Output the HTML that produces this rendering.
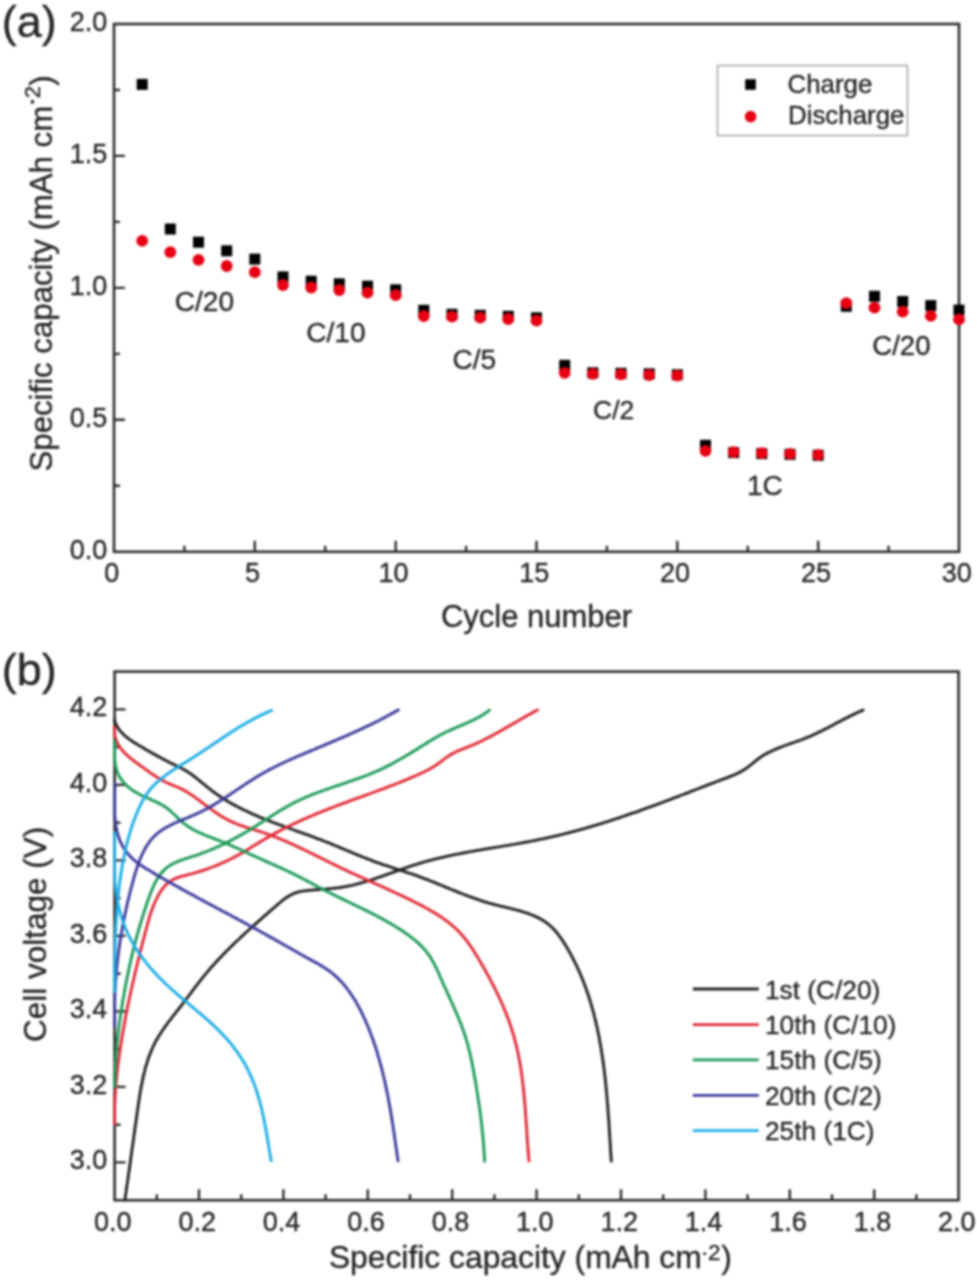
<!DOCTYPE html>
<html><head><meta charset="utf-8"><style>
html,body{margin:0;padding:0;background:#fff;}
body{width:977px;height:1280px;overflow:hidden;}
svg{display:block;font-family:"Liberation Sans", sans-serif;filter:blur(1.1px);}
</style></head><body>
<svg width="977" height="1280" viewBox="0 0 977 1280" font-family='"Liberation Sans", sans-serif' fill="#262626">
<style>text{stroke:#262626;stroke-width:0.35px;}</style>
<rect width="977" height="1280" fill="#fff"/>
<rect x="114.0" y="24.0" width="845.0" height="527.8" fill="none" stroke="#2c2c2c" stroke-width="2.6"/>
<path d="M114.0,485.8h6 M114.0,419.8h11 M114.0,353.9h6 M114.0,287.9h11 M114.0,221.9h6 M114.0,155.9h11 M114.0,90.0h6 M184.4,551.8v-6 M254.8,551.8v-11 M325.2,551.8v-6 M395.7,551.8v-11 M466.1,551.8v-6 M536.5,551.8v-11 M606.9,551.8v-6 M677.3,551.8v-11 M747.8,551.8v-6 M818.2,551.8v-11 M888.6,551.8v-6" stroke="#2c2c2c" stroke-width="2.4" fill="none"/>
<g fill="#262626" font-family='"Liberation Sans", sans-serif'>
<text x="107.3" y="558.7" font-size="27" text-anchor="end" >0.0</text>
<text x="107.3" y="426.7" font-size="27" text-anchor="end" >0.5</text>
<text x="107.3" y="294.8" font-size="27" text-anchor="end" >1.0</text>
<text x="107.3" y="162.8" font-size="27" text-anchor="end" >1.5</text>
<text x="107.3" y="30.9" font-size="27" text-anchor="end" >2.0</text>
<text x="111.8" y="582.3" font-size="27" text-anchor="middle" >0</text>
<text x="252.6" y="582.3" font-size="27" text-anchor="middle" >5</text>
<text x="393.5" y="582.3" font-size="27" text-anchor="middle" >10</text>
<text x="534.3" y="582.3" font-size="27" text-anchor="middle" >15</text>
<text x="675.1" y="582.3" font-size="27" text-anchor="middle" >20</text>
<text x="816.0" y="582.3" font-size="27" text-anchor="middle" >25</text>
<text x="956.8" y="582.3" font-size="27" text-anchor="middle" >30</text>
<text x="1.8" y="37.3" font-size="45" text-anchor="start" >(a)</text>
<text x="536.5" y="626.8" font-size="31" text-anchor="middle" >Cycle number</text>
<text transform="translate(52.3,471.5) rotate(-90)" font-size="31.2">Specific capacity (mAh cm</text>
<rect x="30.9" y="100.0" width="3.0" height="3.6" fill="#262626"/>
<text transform="translate(39.6,98.3) rotate(-90)" font-size="22">2</text>
<text transform="translate(52.3,85.8) rotate(-90)" font-size="31.2">)</text>
<text transform="translate(174.8,311.0) scale(1.04,1)" font-size="27" text-anchor="start" >C/20</text>
<text transform="translate(306.3,342.0) scale(1.04,1)" font-size="27" text-anchor="start" >C/10</text>
<text transform="translate(452.5,368.5) scale(1.04,1)" font-size="27" text-anchor="start" >C/5</text>
<text x="593.0" y="418.5" font-size="26.5" text-anchor="start" >C/2</text>
<text transform="translate(747.0,494.5) scale(1.04,1)" font-size="27" text-anchor="start" >1C</text>
<text transform="translate(872.3,355.0) scale(1.02,1)" font-size="27" text-anchor="start" >C/20</text>
</g>
<rect x="717.5" y="65.5" width="190" height="70" fill="#fff" stroke="#a8a8a8" stroke-width="1.6"/>
<rect x="745.2" y="79.2" width="10.6" height="10.6" fill="#000"/>
<circle cx="750.6" cy="116.6" r="5.8" fill="#e60012"/>
<g fill="#262626" font-family='"Liberation Sans", sans-serif' font-size="25">
<text transform="translate(787.5,92.6) scale(1.035,1)" font-size="25" text-anchor="start" >Charge</text>
<text transform="translate(788.0,124.4) scale(1.035,1)" font-size="25" text-anchor="start" >Discharge</text>
</g>
<rect x="136.7" y="78.9" width="11.0" height="11.0" fill="#000"/>
<rect x="164.8" y="223.5" width="11.0" height="11.0" fill="#000"/>
<rect x="193.0" y="236.7" width="11.0" height="11.0" fill="#000"/>
<rect x="221.2" y="245.3" width="11.0" height="11.0" fill="#000"/>
<rect x="249.3" y="253.6" width="11.0" height="11.0" fill="#000"/>
<rect x="277.5" y="271.4" width="11.0" height="11.0" fill="#000"/>
<rect x="305.7" y="275.7" width="11.0" height="11.0" fill="#000"/>
<rect x="333.8" y="278.3" width="11.0" height="11.0" fill="#000"/>
<rect x="362.0" y="280.7" width="11.0" height="11.0" fill="#000"/>
<rect x="390.2" y="284.3" width="11.0" height="11.0" fill="#000"/>
<rect x="418.3" y="304.8" width="11.0" height="11.0" fill="#000"/>
<rect x="446.5" y="308.8" width="11.0" height="11.0" fill="#000"/>
<rect x="474.7" y="309.8" width="11.0" height="11.0" fill="#000"/>
<rect x="502.8" y="310.8" width="11.0" height="11.0" fill="#000"/>
<rect x="531.0" y="312.3" width="11.0" height="11.0" fill="#000"/>
<rect x="559.2" y="359.8" width="11.0" height="11.0" fill="#000"/>
<rect x="587.3" y="367.3" width="11.0" height="11.0" fill="#000"/>
<rect x="615.5" y="367.8" width="11.0" height="11.0" fill="#000"/>
<rect x="643.7" y="368.3" width="11.0" height="11.0" fill="#000"/>
<rect x="671.8" y="369.3" width="11.0" height="11.0" fill="#000"/>
<rect x="700.0" y="439.8" width="11.0" height="11.0" fill="#000"/>
<rect x="728.2" y="447.1" width="11.0" height="11.0" fill="#000"/>
<rect x="756.3" y="448.1" width="11.0" height="11.0" fill="#000"/>
<rect x="784.5" y="448.8" width="11.0" height="11.0" fill="#000"/>
<rect x="812.7" y="449.8" width="11.0" height="11.0" fill="#000"/>
<rect x="840.8" y="300.8" width="11.0" height="11.0" fill="#000"/>
<rect x="869.0" y="290.8" width="11.0" height="11.0" fill="#000"/>
<rect x="897.2" y="296.0" width="11.0" height="11.0" fill="#000"/>
<rect x="925.3" y="300.1" width="11.0" height="11.0" fill="#000"/>
<rect x="953.5" y="304.6" width="11.0" height="11.0" fill="#000"/>
<circle cx="142.2" cy="240.8" r="5.9" fill="#e60012"/>
<circle cx="170.3" cy="252.2" r="5.9" fill="#e60012"/>
<circle cx="198.5" cy="259.9" r="5.9" fill="#e60012"/>
<circle cx="226.7" cy="266.0" r="5.9" fill="#e60012"/>
<circle cx="254.8" cy="272.2" r="5.9" fill="#e60012"/>
<circle cx="283.0" cy="285.0" r="5.9" fill="#e60012"/>
<circle cx="311.2" cy="287.5" r="5.9" fill="#e60012"/>
<circle cx="339.3" cy="290.0" r="5.9" fill="#e60012"/>
<circle cx="367.5" cy="292.7" r="5.9" fill="#e60012"/>
<circle cx="395.7" cy="295.2" r="5.9" fill="#e60012"/>
<circle cx="423.8" cy="316.0" r="5.9" fill="#e60012"/>
<circle cx="452.0" cy="316.7" r="5.9" fill="#e60012"/>
<circle cx="480.2" cy="317.6" r="5.9" fill="#e60012"/>
<circle cx="508.3" cy="319.0" r="5.9" fill="#e60012"/>
<circle cx="536.5" cy="320.7" r="5.9" fill="#e60012"/>
<circle cx="564.7" cy="372.9" r="5.9" fill="#e60012"/>
<circle cx="592.8" cy="373.8" r="5.9" fill="#e60012"/>
<circle cx="621.0" cy="374.4" r="5.9" fill="#e60012"/>
<circle cx="649.2" cy="375.0" r="5.9" fill="#e60012"/>
<circle cx="677.3" cy="375.6" r="5.9" fill="#e60012"/>
<circle cx="705.5" cy="450.8" r="5.9" fill="#e60012"/>
<circle cx="733.7" cy="452.1" r="5.9" fill="#e60012"/>
<circle cx="761.8" cy="453.2" r="5.9" fill="#e60012"/>
<circle cx="790.0" cy="453.9" r="5.9" fill="#e60012"/>
<circle cx="818.2" cy="454.9" r="5.9" fill="#e60012"/>
<circle cx="846.3" cy="303.1" r="5.9" fill="#e60012"/>
<circle cx="874.5" cy="307.6" r="5.9" fill="#e60012"/>
<circle cx="902.7" cy="311.7" r="5.9" fill="#e60012"/>
<circle cx="930.8" cy="315.9" r="5.9" fill="#e60012"/>
<circle cx="959.0" cy="319.3" r="5.9" fill="#e60012"/>
<rect x="114.6" y="671.6" width="844.0" height="528.6" fill="none" stroke="#2c2c2c" stroke-width="2.6"/>
<path d="M114.6,1162.4h11 M114.6,1124.7h6 M114.6,1086.9h11 M114.6,1049.2h6 M114.6,1011.4h11 M114.6,973.7h6 M114.6,935.9h11 M114.6,898.1h6 M114.6,860.4h11 M114.6,822.6h6 M114.6,784.9h11 M114.6,747.1h6 M114.6,709.4h11 M156.8,1200.2v-6 M199.0,1200.2v-11 M241.2,1200.2v-6 M283.4,1200.2v-11 M325.6,1200.2v-6 M367.8,1200.2v-11 M410.0,1200.2v-6 M452.2,1200.2v-11 M494.4,1200.2v-6 M536.6,1200.2v-11 M578.8,1200.2v-6 M621.0,1200.2v-11 M663.2,1200.2v-6 M705.4,1200.2v-11 M747.6,1200.2v-6 M789.8,1200.2v-11 M832.0,1200.2v-6 M874.2,1200.2v-11 M916.4,1200.2v-6" stroke="#2c2c2c" stroke-width="2.4" fill="none"/>
<g fill="#262626" font-family='"Liberation Sans", sans-serif'>
<text x="107.3" y="1169.3" font-size="27" text-anchor="end" >3.0</text>
<text x="107.3" y="1093.8" font-size="27" text-anchor="end" >3.2</text>
<text x="107.3" y="1018.3" font-size="27" text-anchor="end" >3.4</text>
<text x="107.3" y="942.8" font-size="27" text-anchor="end" >3.6</text>
<text x="107.3" y="867.3" font-size="27" text-anchor="end" >3.8</text>
<text x="107.3" y="791.8" font-size="27" text-anchor="end" >4.0</text>
<text x="107.3" y="716.3" font-size="27" text-anchor="end" >4.2</text>
<text x="112.8" y="1230.8" font-size="27" text-anchor="middle" >0.0</text>
<text x="197.2" y="1230.8" font-size="27" text-anchor="middle" >0.2</text>
<text x="281.6" y="1230.8" font-size="27" text-anchor="middle" >0.4</text>
<text x="366.0" y="1230.8" font-size="27" text-anchor="middle" >0.6</text>
<text x="450.4" y="1230.8" font-size="27" text-anchor="middle" >0.8</text>
<text x="534.8" y="1230.8" font-size="27" text-anchor="middle" >1.0</text>
<text x="619.2" y="1230.8" font-size="27" text-anchor="middle" >1.2</text>
<text x="703.6" y="1230.8" font-size="27" text-anchor="middle" >1.4</text>
<text x="788.0" y="1230.8" font-size="27" text-anchor="middle" >1.6</text>
<text x="872.4" y="1230.8" font-size="27" text-anchor="middle" >1.8</text>
<text x="956.8" y="1230.8" font-size="27" text-anchor="middle" >2.0</text>
<text x="1.8" y="684.5" font-size="45" text-anchor="start" >(b)</text>
<text x="328.9" y="1268" font-size="31.8">Specific capacity (mAh cm</text>
<rect x="703.2" y="1252.6" width="3.0" height="2.3" fill="#262626"/>
<text x="707.9" y="1259.5" font-size="22.5">2</text>
<text x="721.3" y="1268" font-size="32">)</text>
<text transform="translate(46,1042) rotate(-90)" font-size="31.5">Cell voltage (V)</text>
</g>
<path d="M124.8,1200.1 L125.1,1198.5 L125.3,1197.0 L125.5,1195.5 L125.7,1194.0 L126.0,1192.5 L126.2,1191.0 L126.4,1189.5 L126.6,1188.0 L126.8,1186.5 L127.0,1185.0 L127.3,1183.5 L127.5,1182.1 L127.7,1180.6 L127.9,1179.1 L128.1,1177.6 L128.3,1176.1 L128.5,1174.6 L128.7,1173.1 L129.0,1171.6 L129.2,1170.2 L129.4,1168.7 L129.6,1167.2 L129.8,1165.7 L130.0,1164.2 L130.2,1162.7 L130.4,1161.3 L130.6,1159.8 L130.8,1158.3 L131.0,1156.8 L131.2,1155.3 L131.4,1153.9 L131.6,1152.4 L131.8,1150.9 L132.0,1149.4 L132.2,1148.0 L132.5,1146.5 L132.7,1145.0 L132.9,1143.5 L133.1,1142.0 L133.3,1140.6 L133.5,1139.1 L133.7,1137.6 L133.9,1136.1 L134.1,1134.6 L134.3,1133.2 L134.5,1131.7 L134.7,1130.2 L134.9,1128.7 L135.1,1127.2 L135.3,1125.7 L135.5,1124.3 L135.8,1122.8 L136.0,1121.3 L136.2,1119.8 L136.4,1118.3 L136.6,1116.8 L136.8,1115.3 L137.0,1113.8 L137.2,1112.3 L137.5,1110.8 L137.7,1109.3 L137.9,1107.8 L138.1,1106.3 L138.3,1104.8 L138.6,1103.3 L138.8,1101.8 L139.0,1100.3 L139.2,1098.8 L139.5,1097.3 L139.7,1095.8 L139.9,1094.3 L140.2,1092.8 L140.4,1091.3 L140.7,1089.8 L141.0,1088.3 L141.2,1086.8 L141.5,1085.3 L141.8,1083.8 L142.1,1082.4 L142.4,1080.9 L142.7,1079.4 L143.0,1077.9 L143.3,1076.4 L143.7,1075.0 L144.0,1073.5 L144.4,1072.0 L144.8,1070.6 L145.1,1069.1 L145.5,1067.7 L145.9,1066.2 L146.4,1064.8 L146.8,1063.4 L147.2,1061.9 L147.7,1060.5 L148.1,1059.1 L148.6,1057.7 L149.1,1056.3 L149.7,1054.9 L150.2,1053.5 L150.7,1052.1 L151.3,1050.8 L151.9,1049.4 L152.5,1048.0 L153.1,1046.7 L153.7,1045.4 L154.4,1044.0 L155.0,1042.7 L155.7,1041.4 L156.5,1040.1 L157.2,1038.8 L157.9,1037.5 L158.7,1036.3 L159.5,1035.0 L160.3,1033.7 L161.1,1032.5 L161.9,1031.2 L162.7,1030.0 L163.6,1028.8 L164.5,1027.5 L165.3,1026.3 L166.2,1025.1 L167.1,1023.9 L168.0,1022.7 L168.9,1021.5 L169.8,1020.3 L170.7,1019.1 L171.7,1017.9 L172.6,1016.7 L173.5,1015.5 L174.4,1014.3 L175.4,1013.1 L176.3,1011.9 L177.2,1010.7 L178.2,1009.6 L179.1,1008.4 L180.0,1007.2 L181.0,1006.0 L181.9,1004.8 L182.8,1003.6 L183.7,1002.4 L184.6,1001.2 L185.5,1000.0 L186.4,998.8 L187.3,997.6 L188.3,996.4 L189.2,995.2 L190.1,994.0 L191.0,992.8 L191.9,991.6 L192.8,990.4 L193.7,989.2 L194.6,988.0 L195.5,986.8 L196.4,985.6 L197.3,984.4 L198.2,983.3 L199.1,982.1 L200.1,980.9 L201.0,979.7 L201.9,978.6 L202.9,977.4 L203.8,976.2 L204.7,975.1 L205.7,973.9 L206.6,972.8 L207.6,971.6 L208.6,970.5 L209.5,969.4 L210.5,968.2 L211.5,967.1 L212.5,966.0 L213.5,964.9 L214.5,963.8 L215.5,962.7 L216.5,961.5 L217.5,960.4 L218.6,959.4 L219.6,958.3 L220.6,957.2 L221.7,956.1 L222.7,955.0 L223.7,953.9 L224.8,952.9 L225.8,951.8 L226.9,950.7 L228.0,949.7 L229.0,948.6 L230.1,947.5 L231.2,946.5 L232.3,945.4 L233.3,944.4 L234.4,943.3 L235.5,942.3 L236.6,941.3 L237.7,940.2 L238.8,939.2 L239.9,938.2 L241.0,937.1 L242.1,936.1 L243.2,935.1 L244.3,934.0 L245.4,933.0 L246.5,932.0 L247.7,931.0 L248.8,930.0 L249.9,929.0 L251.0,927.9 L252.2,926.9 L253.3,925.9 L254.4,924.9 L255.5,923.9 L256.7,922.9 L257.8,921.9 L258.9,920.9 L260.1,919.9 L261.2,918.9 L262.4,917.9 L263.5,916.9 L264.6,915.9 L265.8,914.9 L266.9,913.9 L268.1,912.9 L269.2,911.9 L270.3,910.9 L271.5,909.9 L272.6,908.9 L273.8,907.9 L274.9,906.9 L276.1,905.9 L277.2,904.9 L278.3,903.9 L279.5,903.0 L280.7,902.0 L281.8,901.0 L283.0,900.1 L284.2,899.2 L285.4,898.3 L286.6,897.5 L287.8,896.7 L289.0,895.9 L290.3,895.2 L291.6,894.5 L292.9,893.9 L294.2,893.3 L295.6,892.8 L296.9,892.4 L298.3,892.0 L299.7,891.7 L301.2,891.4 L302.6,891.1 L304.1,890.9 L305.6,890.7 L307.1,890.5 L308.6,890.4 L310.1,890.2 L311.6,890.1 L313.1,890.0 L314.6,889.9 L316.1,889.8 L317.7,889.7 L319.2,889.6 L320.7,889.4 L322.2,889.3 L323.7,889.2 L325.2,889.1 L326.7,889.0 L328.2,888.8 L329.8,888.7 L331.3,888.6 L332.8,888.4 L334.3,888.2 L335.8,888.1 L337.3,887.9 L338.8,887.7 L340.2,887.5 L341.7,887.2 L343.2,887.0 L344.7,886.7 L346.2,886.5 L347.6,886.2 L349.1,885.9 L350.6,885.6 L352.0,885.3 L353.5,884.9 L355.0,884.6 L356.4,884.2 L357.9,883.8 L359.3,883.4 L360.8,883.0 L362.2,882.6 L363.6,882.2 L365.1,881.8 L366.5,881.4 L368.0,880.9 L369.4,880.5 L370.8,880.0 L372.3,879.6 L373.7,879.1 L375.1,878.6 L376.5,878.2 L378.0,877.7 L379.4,877.2 L380.8,876.7 L382.2,876.2 L383.7,875.7 L385.1,875.2 L386.5,874.7 L387.9,874.2 L389.3,873.7 L390.8,873.2 L392.2,872.6 L393.6,872.1 L395.0,871.6 L396.4,871.1 L397.9,870.6 L399.3,870.1 L400.7,869.6 L402.1,869.1 L403.5,868.6 L405.0,868.1 L406.4,867.6 L407.8,867.1 L409.2,866.6 L410.7,866.2 L412.1,865.7 L413.5,865.2 L415.0,864.8 L416.4,864.3 L417.8,863.9 L419.3,863.4 L420.7,863.0 L422.1,862.6 L423.6,862.1 L425.0,861.7 L426.5,861.3 L427.9,860.9 L429.4,860.5 L430.8,860.2 L432.3,859.8 L433.7,859.4 L435.2,859.0 L436.6,858.7 L438.1,858.3 L439.6,858.0 L441.0,857.6 L442.5,857.3 L443.9,857.0 L445.4,856.6 L446.9,856.3 L448.3,856.0 L449.8,855.7 L451.3,855.4 L452.7,855.1 L454.2,854.7 L455.7,854.4 L457.1,854.2 L458.6,853.9 L460.1,853.6 L461.6,853.3 L463.0,853.0 L464.5,852.7 L466.0,852.5 L467.5,852.2 L469.0,851.9 L470.4,851.6 L471.9,851.4 L473.4,851.1 L474.9,850.8 L476.4,850.6 L477.8,850.3 L479.3,850.1 L480.8,849.8 L482.3,849.6 L483.8,849.3 L485.3,849.1 L486.7,848.8 L488.2,848.6 L489.7,848.3 L491.2,848.1 L492.7,847.8 L494.2,847.6 L495.6,847.3 L497.1,847.1 L498.6,846.9 L500.1,846.6 L501.6,846.4 L503.1,846.1 L504.6,845.9 L506.0,845.6 L507.5,845.4 L509.0,845.1 L510.5,844.9 L512.0,844.6 L513.5,844.4 L514.9,844.1 L516.4,843.9 L517.9,843.6 L519.4,843.3 L520.9,843.1 L522.3,842.8 L523.8,842.5 L525.3,842.3 L526.8,842.0 L528.3,841.7 L529.7,841.4 L531.2,841.2 L532.7,840.9 L534.2,840.6 L535.6,840.3 L537.1,840.0 L538.6,839.7 L540.1,839.4 L541.5,839.1 L543.0,838.8 L544.5,838.5 L545.9,838.2 L547.4,837.8 L548.9,837.5 L550.3,837.2 L551.8,836.9 L553.3,836.5 L554.7,836.2 L556.2,835.8 L557.6,835.5 L559.1,835.1 L560.5,834.8 L562.0,834.4 L563.5,834.1 L564.9,833.7 L566.4,833.3 L567.8,833.0 L569.3,832.6 L570.7,832.2 L572.2,831.8 L573.6,831.5 L575.1,831.1 L576.5,830.7 L578.0,830.3 L579.4,829.9 L580.9,829.5 L582.3,829.1 L583.8,828.7 L585.2,828.3 L586.6,827.8 L588.1,827.4 L589.5,827.0 L591.0,826.6 L592.4,826.2 L593.8,825.7 L595.3,825.3 L596.7,824.9 L598.2,824.4 L599.6,824.0 L601.0,823.6 L602.5,823.1 L603.9,822.7 L605.3,822.2 L606.8,821.8 L608.2,821.3 L609.6,820.9 L611.1,820.4 L612.5,819.9 L613.9,819.5 L615.3,819.0 L616.8,818.5 L618.2,818.1 L619.6,817.6 L621.1,817.1 L622.5,816.6 L623.9,816.2 L625.3,815.7 L626.7,815.2 L628.2,814.7 L629.6,814.2 L631.0,813.7 L632.4,813.2 L633.9,812.7 L635.3,812.3 L636.7,811.8 L638.1,811.3 L639.5,810.8 L640.9,810.2 L642.4,809.7 L643.8,809.2 L645.2,808.7 L646.6,808.2 L648.0,807.7 L649.4,807.2 L650.9,806.7 L652.3,806.2 L653.7,805.6 L655.1,805.1 L656.5,804.6 L657.9,804.1 L659.3,803.6 L660.7,803.0 L662.1,802.5 L663.6,802.0 L665.0,801.4 L666.4,800.9 L667.8,800.4 L669.2,799.8 L670.6,799.3 L672.0,798.8 L673.4,798.2 L674.8,797.7 L676.2,797.2 L677.6,796.6 L679.0,796.1 L680.4,795.5 L681.8,795.0 L683.2,794.5 L684.7,793.9 L686.1,793.4 L687.5,792.8 L688.9,792.3 L690.3,791.7 L691.7,791.2 L693.1,790.7 L694.5,790.1 L695.9,789.6 L697.3,789.0 L698.7,788.5 L700.1,787.9 L701.5,787.4 L702.9,786.9 L704.3,786.3 L705.7,785.8 L707.1,785.2 L708.5,784.7 L709.9,784.2 L711.3,783.6 L712.7,783.1 L714.1,782.6 L715.5,782.0 L716.9,781.5 L718.3,781.0 L719.7,780.4 L721.1,779.9 L722.5,779.4 L723.9,778.9 L725.3,778.3 L726.7,777.8 L728.1,777.3 L729.5,776.7 L730.9,776.2 L732.2,775.6 L733.6,775.1 L735.0,774.5 L736.3,773.9 L737.7,773.2 L739.0,772.6 L740.3,771.9 L741.6,771.2 L742.9,770.4 L744.2,769.7 L745.4,768.9 L746.7,768.0 L747.9,767.1 L749.1,766.2 L750.3,765.3 L751.4,764.3 L752.6,763.4 L753.8,762.4 L755.0,761.4 L756.1,760.5 L757.3,759.6 L758.5,758.7 L759.8,757.8 L761.0,756.9 L762.2,756.1 L763.5,755.3 L764.8,754.6 L766.1,753.8 L767.4,753.1 L768.7,752.4 L770.0,751.8 L771.4,751.1 L772.7,750.5 L774.1,749.9 L775.4,749.3 L776.8,748.7 L778.2,748.1 L779.6,747.6 L781.0,747.1 L782.4,746.5 L783.8,746.0 L785.2,745.5 L786.6,745.0 L788.0,744.5 L789.4,744.0 L790.9,743.5 L792.3,743.0 L793.7,742.5 L795.1,742.0 L796.5,741.5 L798.0,741.0 L799.4,740.5 L800.8,740.0 L802.2,739.4 L803.6,738.9 L805.0,738.4 L806.4,737.8 L807.8,737.2 L809.2,736.7 L810.6,736.1 L811.9,735.5 L813.3,734.8 L814.7,734.2 L816.0,733.6 L817.4,732.9 L818.7,732.3 L820.1,731.6 L821.4,731.0 L822.8,730.3 L824.1,729.6 L825.4,728.9 L826.8,728.2 L828.1,727.5 L829.5,726.9 L830.8,726.2 L832.1,725.5 L833.4,724.7 L834.8,724.0 L836.1,723.3 L837.4,722.6 L838.8,721.9 L840.1,721.2 L841.4,720.5 L842.8,719.8 L844.1,719.1 L845.4,718.4 L846.8,717.8 L848.1,717.1 L849.4,716.4 L850.8,715.7 L852.1,715.1 L853.5,714.4 L854.9,713.8 L856.2,713.1 L857.6,712.5 L859.0,711.9 L860.3,711.3 L861.7,710.7 L863.1,710.1" stroke="#222222" stroke-width="2.9" fill="none" stroke-linejoin="round" stroke-linecap="round"/>
<path d="M114.7,719.1 L114.7,720.6 L115.0,722.0 L115.6,723.4 L116.2,724.8 L116.9,726.1 L117.6,727.3 L118.4,728.5 L119.2,729.7 L120.1,730.8 L121.1,731.9 L122.1,733.0 L123.1,734.1 L124.2,735.1 L125.3,736.1 L126.4,737.0 L127.6,737.9 L128.8,738.9 L130.0,739.8 L131.3,740.6 L132.6,741.5 L133.8,742.3 L135.1,743.1 L136.5,744.0 L137.8,744.8 L139.1,745.5 L140.4,746.3 L141.8,747.1 L143.1,747.9 L144.4,748.6 L145.8,749.4 L147.1,750.2 L148.4,750.9 L149.7,751.7 L151.0,752.4 L152.3,753.2 L153.6,753.9 L154.9,754.6 L156.3,755.4 L157.6,756.1 L158.9,756.8 L160.2,757.5 L161.5,758.2 L162.8,758.9 L164.1,759.6 L165.5,760.3 L166.8,761.0 L168.1,761.7 L169.5,762.4 L170.8,763.0 L172.1,763.7 L173.5,764.3 L174.9,765.0 L176.2,765.6 L177.6,766.3 L178.9,766.9 L180.3,767.6 L181.6,768.3 L182.9,769.0 L184.2,769.7 L185.5,770.5 L186.8,771.3 L188.1,772.1 L189.3,772.9 L190.5,773.8 L191.8,774.6 L193.0,775.5 L194.2,776.4 L195.4,777.3 L196.5,778.3 L197.7,779.2 L198.9,780.2 L200.1,781.1 L201.2,782.1 L202.4,783.0 L203.6,784.0 L204.7,784.9 L205.9,785.9 L207.1,786.9 L208.3,787.8 L209.4,788.7 L210.6,789.7 L211.8,790.6 L213.0,791.5 L214.2,792.4 L215.4,793.3 L216.7,794.1 L217.9,795.0 L219.1,795.8 L220.4,796.7 L221.6,797.5 L222.9,798.3 L224.2,799.1 L225.4,799.9 L226.7,800.6 L228.0,801.4 L229.3,802.2 L230.6,802.9 L231.9,803.7 L233.2,804.4 L234.5,805.1 L235.8,805.8 L237.1,806.5 L238.5,807.2 L239.8,807.9 L241.1,808.6 L242.5,809.2 L243.8,809.9 L245.2,810.5 L246.5,811.2 L247.9,811.8 L249.2,812.4 L250.6,813.1 L252.0,813.7 L253.3,814.3 L254.7,814.9 L256.1,815.5 L257.5,816.1 L258.8,816.7 L260.2,817.3 L261.6,817.8 L263.0,818.4 L264.4,819.0 L265.8,819.5 L267.2,820.1 L268.6,820.6 L270.0,821.2 L271.4,821.7 L272.8,822.3 L274.2,822.8 L275.6,823.3 L277.0,823.9 L278.4,824.4 L279.9,824.9 L281.3,825.4 L282.7,825.9 L284.1,826.5 L285.5,827.0 L286.9,827.5 L288.4,828.0 L289.8,828.5 L291.2,829.0 L292.6,829.5 L294.0,830.0 L295.5,830.6 L296.9,831.1 L298.3,831.6 L299.7,832.1 L301.2,832.6 L302.6,833.1 L304.0,833.6 L305.4,834.1 L306.8,834.6 L308.3,835.2 L309.7,835.7 L311.1,836.2 L312.5,836.7 L313.9,837.2 L315.3,837.8 L316.7,838.3 L318.2,838.8 L319.6,839.3 L321.0,839.9 L322.4,840.4 L323.8,841.0 L325.2,841.5 L326.6,842.1 L328.0,842.6 L329.4,843.2 L330.8,843.7 L332.2,844.3 L333.6,844.9 L334.9,845.5 L336.3,846.0 L337.7,846.6 L339.1,847.2 L340.5,847.8 L341.9,848.3 L343.3,848.9 L344.6,849.5 L346.0,850.1 L347.4,850.7 L348.8,851.2 L350.2,851.8 L351.6,852.4 L353.0,853.0 L354.3,853.6 L355.7,854.1 L357.1,854.7 L358.5,855.3 L359.9,855.8 L361.3,856.4 L362.7,857.0 L364.1,857.5 L365.5,858.1 L366.9,858.6 L368.3,859.2 L369.7,859.7 L371.1,860.2 L372.5,860.8 L373.9,861.3 L375.3,861.8 L376.7,862.3 L378.1,862.8 L379.6,863.3 L381.0,863.8 L382.4,864.3 L383.8,864.8 L385.3,865.3 L386.7,865.7 L388.1,866.2 L389.5,866.7 L391.0,867.2 L392.4,867.6 L393.8,868.1 L395.3,868.6 L396.7,869.0 L398.1,869.5 L399.6,870.0 L401.0,870.4 L402.4,870.9 L403.9,871.4 L405.3,871.8 L406.7,872.3 L408.2,872.8 L409.6,873.3 L411.0,873.7 L412.4,874.2 L413.9,874.7 L415.3,875.2 L416.7,875.7 L418.1,876.2 L419.5,876.7 L421.0,877.3 L422.4,877.8 L423.8,878.3 L425.2,878.9 L426.6,879.4 L428.0,879.9 L429.4,880.5 L430.8,881.0 L432.2,881.6 L433.6,882.2 L435.0,882.7 L436.4,883.3 L437.7,883.8 L439.1,884.4 L440.5,885.0 L441.9,885.5 L443.3,886.1 L444.7,886.7 L446.1,887.3 L447.5,887.8 L448.9,888.4 L450.2,889.0 L451.6,889.5 L453.0,890.1 L454.4,890.7 L455.8,891.2 L457.2,891.8 L458.6,892.3 L460.0,892.9 L461.4,893.5 L462.8,894.0 L464.2,894.5 L465.6,895.1 L467.0,895.6 L468.4,896.2 L469.8,896.7 L471.2,897.2 L472.6,897.7 L474.1,898.2 L475.5,898.7 L476.9,899.2 L478.3,899.7 L479.7,900.2 L481.2,900.6 L482.6,901.1 L484.0,901.6 L485.5,902.0 L486.9,902.4 L488.4,902.9 L489.8,903.3 L491.3,903.7 L492.8,904.1 L494.2,904.5 L495.7,904.9 L497.2,905.2 L498.6,905.6 L500.1,906.0 L501.6,906.3 L503.1,906.7 L504.6,907.0 L506.0,907.4 L507.5,907.7 L509.0,908.1 L510.5,908.4 L511.9,908.8 L513.4,909.2 L514.9,909.6 L516.3,909.9 L517.8,910.3 L519.3,910.7 L520.7,911.1 L522.2,911.6 L523.6,912.0 L525.0,912.5 L526.5,912.9 L527.9,913.4 L529.3,913.9 L530.7,914.5 L532.1,915.0 L533.4,915.6 L534.8,916.2 L536.2,916.8 L537.5,917.4 L538.8,918.1 L540.1,918.8 L541.4,919.5 L542.7,920.3 L544.0,921.1 L545.2,921.9 L546.4,922.7 L547.6,923.6 L548.7,924.5 L549.9,925.5 L551.0,926.5 L552.1,927.5 L553.1,928.5 L554.1,929.6 L555.1,930.7 L556.1,931.8 L557.1,933.0 L558.0,934.2 L558.9,935.4 L559.8,936.6 L560.7,937.8 L561.6,939.1 L562.4,940.4 L563.3,941.6 L564.1,942.9 L564.9,944.2 L565.7,945.5 L566.5,946.8 L567.3,948.2 L568.0,949.5 L568.8,950.8 L569.5,952.1 L570.3,953.5 L571.0,954.8 L571.7,956.1 L572.4,957.5 L573.1,958.8 L573.8,960.2 L574.5,961.5 L575.1,962.9 L575.8,964.2 L576.5,965.6 L577.1,966.9 L577.7,968.3 L578.4,969.7 L579.0,971.0 L579.6,972.4 L580.2,973.8 L580.8,975.2 L581.3,976.6 L581.9,977.9 L582.5,979.3 L583.0,980.7 L583.6,982.1 L584.1,983.5 L584.7,984.9 L585.2,986.3 L585.7,987.7 L586.2,989.1 L586.7,990.5 L587.2,992.0 L587.7,993.4 L588.2,994.8 L588.6,996.2 L589.1,997.6 L589.5,999.1 L590.0,1000.5 L590.4,1001.9 L590.9,1003.4 L591.3,1004.8 L591.7,1006.2 L592.1,1007.7 L592.5,1009.1 L592.9,1010.5 L593.3,1012.0 L593.7,1013.4 L594.1,1014.9 L594.4,1016.3 L594.8,1017.8 L595.2,1019.3 L595.5,1020.7 L595.9,1022.2 L596.2,1023.6 L596.5,1025.1 L596.9,1026.6 L597.2,1028.0 L597.5,1029.5 L597.8,1031.0 L598.1,1032.4 L598.4,1033.9 L598.7,1035.4 L599.0,1036.8 L599.3,1038.3 L599.6,1039.8 L599.8,1041.3 L600.1,1042.8 L600.4,1044.2 L600.6,1045.7 L600.9,1047.2 L601.1,1048.7 L601.4,1050.2 L601.6,1051.7 L601.8,1053.2 L602.1,1054.7 L602.3,1056.1 L602.5,1057.6 L602.7,1059.1 L602.9,1060.6 L603.1,1062.1 L603.4,1063.6 L603.6,1065.1 L603.7,1066.6 L603.9,1068.1 L604.1,1069.6 L604.3,1071.1 L604.5,1072.6 L604.7,1074.1 L604.8,1075.6 L605.0,1077.1 L605.2,1078.6 L605.3,1080.1 L605.5,1081.6 L605.7,1083.1 L605.8,1084.6 L606.0,1086.1 L606.1,1087.6 L606.2,1089.1 L606.4,1090.7 L606.5,1092.2 L606.7,1093.7 L606.8,1095.2 L606.9,1096.7 L607.1,1098.2 L607.2,1099.7 L607.3,1101.2 L607.4,1102.7 L607.6,1104.2 L607.7,1105.7 L607.8,1107.2 L607.9,1108.7 L608.0,1110.2 L608.1,1111.7 L608.2,1113.2 L608.3,1114.8 L608.4,1116.3 L608.5,1117.8 L608.7,1119.3 L608.8,1120.8 L608.9,1122.3 L609.0,1123.8 L609.1,1125.3 L609.1,1126.8 L609.2,1128.3 L609.3,1129.8 L609.4,1131.3 L609.5,1132.8 L609.6,1134.3 L609.7,1135.8 L609.8,1137.3 L609.9,1138.8 L610.0,1140.3 L610.1,1141.8 L610.2,1143.2 L610.3,1144.7 L610.3,1146.2 L610.4,1147.7 L610.5,1149.2 L610.6,1150.7 L610.7,1152.2 L610.8,1153.7 L610.9,1155.2 L611.0,1156.6 L611.1,1158.1 L611.2,1159.6 L611.3,1161.1" stroke="#222222" stroke-width="2.9" fill="none" stroke-linejoin="round" stroke-linecap="round"/>
<path d="M114.7,1124.5 L114.7,1123.0 L114.7,1121.5 L114.7,1120.0 L114.7,1118.5 L114.7,1117.0 L114.7,1115.5 L114.7,1114.0 L114.7,1112.5 L114.7,1111.0 L114.7,1109.5 L114.7,1108.0 L114.7,1106.5 L114.7,1105.0 L114.8,1103.5 L114.9,1102.0 L114.9,1100.4 L115.0,1098.9 L115.1,1097.4 L115.1,1095.9 L115.2,1094.4 L115.3,1092.9 L115.4,1091.4 L115.5,1089.9 L115.6,1088.4 L115.7,1086.9 L115.9,1085.4 L116.0,1083.9 L116.1,1082.4 L116.3,1080.9 L116.4,1079.4 L116.5,1077.9 L116.7,1076.4 L116.8,1074.9 L117.0,1073.4 L117.2,1071.9 L117.3,1070.4 L117.5,1068.9 L117.7,1067.4 L117.9,1065.9 L118.0,1064.4 L118.2,1062.9 L118.4,1061.5 L118.6,1060.0 L118.8,1058.5 L119.0,1057.0 L119.2,1055.5 L119.4,1054.0 L119.6,1052.5 L119.9,1051.0 L120.1,1049.5 L120.3,1048.0 L120.5,1046.5 L120.7,1045.1 L121.0,1043.6 L121.2,1042.1 L121.5,1040.6 L121.7,1039.1 L121.9,1037.6 L122.2,1036.1 L122.4,1034.7 L122.7,1033.2 L122.9,1031.7 L123.2,1030.2 L123.5,1028.7 L123.7,1027.3 L124.0,1025.8 L124.3,1024.3 L124.5,1022.8 L124.8,1021.4 L125.1,1019.9 L125.4,1018.4 L125.6,1016.9 L125.9,1015.5 L126.2,1014.0 L126.5,1012.5 L126.8,1011.0 L127.1,1009.6 L127.4,1008.1 L127.7,1006.6 L128.0,1005.2 L128.3,1003.7 L128.6,1002.2 L128.9,1000.8 L129.2,999.3 L129.5,997.8 L129.8,996.3 L130.2,994.9 L130.5,993.4 L130.8,991.9 L131.1,990.5 L131.4,989.0 L131.8,987.5 L132.1,986.1 L132.4,984.6 L132.8,983.2 L133.1,981.7 L133.4,980.2 L133.8,978.8 L134.1,977.3 L134.5,975.8 L134.8,974.4 L135.1,972.9 L135.5,971.4 L135.8,970.0 L136.2,968.5 L136.5,967.0 L136.9,965.6 L137.3,964.1 L137.6,962.7 L138.0,961.2 L138.3,959.7 L138.7,958.3 L139.1,956.8 L139.4,955.4 L139.8,953.9 L140.2,952.4 L140.5,951.0 L140.9,949.5 L141.3,948.0 L141.6,946.6 L142.0,945.1 L142.4,943.7 L142.8,942.2 L143.1,940.7 L143.5,939.3 L143.9,937.8 L144.3,936.3 L144.7,934.9 L145.0,933.4 L145.4,932.0 L145.8,930.5 L146.2,929.0 L146.6,927.6 L147.0,926.1 L147.4,924.6 L147.8,923.2 L148.2,921.7 L148.6,920.3 L149.0,918.8 L149.4,917.4 L149.9,915.9 L150.3,914.5 L150.8,913.0 L151.3,911.6 L151.8,910.2 L152.3,908.8 L152.8,907.4 L153.3,906.0 L153.9,904.6 L154.5,903.2 L155.1,901.8 L155.7,900.4 L156.4,899.1 L157.1,897.7 L157.8,896.4 L158.5,895.1 L159.3,893.8 L160.0,892.5 L160.9,891.2 L161.7,890.0 L162.6,888.7 L163.5,887.5 L164.5,886.4 L165.5,885.3 L166.5,884.3 L167.6,883.3 L168.8,882.4 L169.9,881.5 L171.2,880.7 L172.4,880.0 L173.7,879.3 L175.0,878.6 L176.4,878.1 L177.8,877.6 L179.2,877.1 L180.6,876.6 L182.1,876.2 L183.5,875.8 L185.0,875.5 L186.5,875.1 L188.0,874.7 L189.5,874.3 L190.9,873.9 L192.4,873.6 L193.9,873.1 L195.3,872.7 L196.8,872.3 L198.2,871.9 L199.7,871.4 L201.1,871.0 L202.6,870.5 L204.0,870.0 L205.4,869.6 L206.8,869.1 L208.3,868.6 L209.7,868.0 L211.1,867.5 L212.5,867.0 L213.9,866.5 L215.3,865.9 L216.7,865.3 L218.1,864.8 L219.4,864.2 L220.8,863.6 L222.2,863.0 L223.6,862.4 L224.9,861.8 L226.3,861.1 L227.6,860.5 L229.0,859.8 L230.3,859.2 L231.7,858.5 L233.0,857.8 L234.3,857.1 L235.7,856.4 L237.0,855.7 L238.3,855.0 L239.6,854.2 L240.9,853.5 L242.2,852.8 L243.5,852.0 L244.8,851.2 L246.1,850.5 L247.4,849.7 L248.7,848.9 L250.0,848.1 L251.3,847.3 L252.5,846.5 L253.8,845.7 L255.1,845.0 L256.4,844.2 L257.7,843.4 L259.0,842.6 L260.3,841.8 L261.5,841.0 L262.8,840.2 L264.1,839.5 L265.4,838.7 L266.7,837.9 L268.0,837.2 L269.3,836.4 L270.7,835.7 L272.0,835.0 L273.3,834.2 L274.6,833.5 L275.9,832.8 L277.2,832.1 L278.6,831.4 L279.9,830.7 L281.2,830.0 L282.6,829.3 L283.9,828.6 L285.3,828.0 L286.6,827.3 L287.9,826.6 L289.3,826.0 L290.6,825.3 L292.0,824.7 L293.4,824.0 L294.7,823.4 L296.1,822.7 L297.4,822.1 L298.8,821.5 L300.2,820.9 L301.5,820.2 L302.9,819.6 L304.3,819.0 L305.7,818.4 L307.0,817.8 L308.4,817.2 L309.8,816.6 L311.2,816.0 L312.6,815.4 L314.0,814.9 L315.3,814.3 L316.7,813.7 L318.1,813.1 L319.5,812.6 L320.9,812.0 L322.3,811.4 L323.7,810.9 L325.1,810.3 L326.5,809.8 L327.9,809.2 L329.3,808.7 L330.7,808.1 L332.1,807.6 L333.5,807.0 L334.9,806.5 L336.3,806.0 L337.7,805.4 L339.2,804.9 L340.6,804.4 L342.0,803.8 L343.4,803.3 L344.8,802.8 L346.2,802.3 L347.6,801.8 L349.0,801.2 L350.5,800.7 L351.9,800.2 L353.3,799.7 L354.7,799.2 L356.1,798.7 L357.5,798.1 L358.9,797.6 L360.4,797.1 L361.8,796.6 L363.2,796.1 L364.6,795.6 L366.0,795.1 L367.4,794.6 L368.9,794.0 L370.3,793.5 L371.7,793.0 L373.1,792.5 L374.5,792.0 L375.9,791.5 L377.3,790.9 L378.7,790.4 L380.1,789.9 L381.6,789.4 L383.0,788.9 L384.4,788.3 L385.8,787.8 L387.2,787.3 L388.6,786.7 L390.0,786.2 L391.4,785.7 L392.8,785.1 L394.2,784.6 L395.6,784.0 L397.0,783.5 L398.4,783.0 L399.8,782.4 L401.1,781.8 L402.5,781.3 L403.9,780.7 L405.3,780.1 L406.7,779.6 L408.1,779.0 L409.4,778.4 L410.8,777.8 L412.2,777.2 L413.6,776.7 L414.9,776.1 L416.3,775.5 L417.7,774.8 L419.0,774.2 L420.4,773.6 L421.7,773.0 L423.1,772.3 L424.4,771.7 L425.7,771.0 L427.1,770.4 L428.4,769.7 L429.7,769.0 L431.0,768.2 L432.3,767.5 L433.6,766.7 L434.8,765.9 L436.1,765.1 L437.3,764.3 L438.5,763.4 L439.8,762.5 L441.0,761.6 L442.1,760.7 L443.3,759.8 L444.5,758.9 L445.7,757.9 L446.9,757.1 L448.2,756.2 L449.4,755.4 L450.7,754.6 L452.0,753.9 L453.3,753.2 L454.6,752.5 L456.0,751.9 L457.3,751.2 L458.7,750.6 L460.1,750.1 L461.5,749.5 L462.9,748.9 L464.3,748.4 L465.7,747.8 L467.1,747.3 L468.5,746.7 L469.9,746.2 L471.3,745.6 L472.7,745.0 L474.0,744.4 L475.4,743.8 L476.8,743.2 L478.2,742.6 L479.5,742.0 L480.9,741.3 L482.2,740.7 L483.6,740.0 L484.9,739.3 L486.3,738.7 L487.6,738.0 L488.9,737.3 L490.3,736.6 L491.6,735.9 L492.9,735.2 L494.2,734.5 L495.6,733.7 L496.9,733.0 L498.2,732.3 L499.5,731.6 L500.8,730.8 L502.1,730.1 L503.4,729.3 L504.7,728.6 L506.0,727.8 L507.3,727.1 L508.6,726.3 L509.9,725.6 L511.2,724.8 L512.6,724.1 L513.9,723.3 L515.2,722.5 L516.5,721.8 L517.8,721.0 L519.1,720.3 L520.4,719.5 L521.7,718.8 L523.0,718.0 L524.3,717.3 L525.6,716.5 L526.9,715.8 L528.2,715.1 L529.5,714.3 L530.8,713.6 L532.2,712.9 L533.5,712.1 L534.8,711.4 L536.1,710.7 L537.5,710.0" stroke="#e02a36" stroke-width="2.9" fill="none" stroke-linejoin="round" stroke-linecap="round"/>
<path d="M114.7,726.9 L114.7,728.6 L114.7,730.2 L114.7,731.8 L114.7,733.3 L114.7,734.8 L115.0,736.3 L115.4,737.7 L115.8,739.1 L116.3,740.5 L116.8,741.8 L117.5,743.1 L118.1,744.4 L118.9,745.6 L119.7,746.8 L120.5,748.0 L121.4,749.2 L122.3,750.3 L123.3,751.4 L124.3,752.5 L125.4,753.6 L126.5,754.6 L127.6,755.6 L128.7,756.6 L129.9,757.6 L131.1,758.6 L132.3,759.6 L133.5,760.5 L134.8,761.5 L136.0,762.4 L137.3,763.3 L138.5,764.3 L139.8,765.2 L141.1,766.1 L142.3,767.0 L143.6,767.9 L144.8,768.8 L146.0,769.7 L147.3,770.5 L148.5,771.4 L149.7,772.3 L150.9,773.2 L152.2,774.0 L153.4,774.8 L154.6,775.7 L155.9,776.5 L157.1,777.3 L158.4,778.1 L159.6,778.8 L160.9,779.6 L162.2,780.3 L163.5,781.0 L164.8,781.7 L166.1,782.3 L167.5,783.0 L168.9,783.6 L170.2,784.2 L171.6,784.7 L173.0,785.3 L174.4,785.9 L175.8,786.5 L177.2,787.0 L178.6,787.6 L180.0,788.3 L181.4,788.9 L182.7,789.6 L184.0,790.3 L185.3,791.0 L186.6,791.8 L187.9,792.6 L189.1,793.4 L190.4,794.2 L191.6,795.0 L192.9,795.8 L194.1,796.7 L195.3,797.6 L196.5,798.4 L197.7,799.3 L199.0,800.2 L200.2,801.1 L201.4,802.0 L202.6,802.9 L203.8,803.8 L205.0,804.7 L206.2,805.6 L207.4,806.5 L208.6,807.4 L209.9,808.3 L211.1,809.2 L212.3,810.1 L213.5,811.0 L214.8,811.8 L216.0,812.7 L217.3,813.5 L218.5,814.3 L219.8,815.2 L221.1,816.0 L222.4,816.7 L223.6,817.5 L224.9,818.3 L226.2,819.0 L227.6,819.7 L228.9,820.4 L230.2,821.1 L231.6,821.7 L233.0,822.3 L234.3,822.9 L235.7,823.5 L237.1,824.0 L238.5,824.6 L239.9,825.1 L241.3,825.6 L242.8,826.1 L244.2,826.6 L245.6,827.1 L247.1,827.5 L248.5,828.0 L250.0,828.4 L251.4,828.9 L252.9,829.3 L254.3,829.8 L255.8,830.2 L257.2,830.7 L258.7,831.1 L260.1,831.6 L261.6,832.0 L263.0,832.5 L264.4,833.0 L265.9,833.5 L267.3,834.0 L268.7,834.5 L270.1,835.0 L271.5,835.5 L272.9,836.1 L274.4,836.6 L275.8,837.2 L277.2,837.7 L278.6,838.3 L280.0,838.8 L281.3,839.4 L282.7,840.0 L284.1,840.6 L285.5,841.2 L286.9,841.8 L288.3,842.4 L289.6,843.0 L291.0,843.6 L292.4,844.2 L293.7,844.8 L295.1,845.5 L296.5,846.1 L297.8,846.7 L299.2,847.4 L300.6,848.0 L301.9,848.7 L303.3,849.3 L304.6,850.0 L306.0,850.6 L307.3,851.3 L308.7,852.0 L310.0,852.6 L311.4,853.3 L312.7,853.9 L314.1,854.6 L315.4,855.3 L316.8,856.0 L318.1,856.6 L319.5,857.3 L320.8,858.0 L322.2,858.6 L323.5,859.3 L324.9,860.0 L326.2,860.7 L327.6,861.3 L328.9,862.0 L330.3,862.7 L331.6,863.3 L333.0,864.0 L334.3,864.7 L335.7,865.3 L337.0,866.0 L338.4,866.6 L339.7,867.3 L341.1,868.0 L342.4,868.6 L343.8,869.3 L345.2,869.9 L346.5,870.5 L347.9,871.2 L349.2,871.8 L350.6,872.4 L352.0,873.1 L353.4,873.7 L354.7,874.3 L356.1,875.0 L357.5,875.6 L358.8,876.2 L360.2,876.8 L361.6,877.5 L363.0,878.1 L364.3,878.7 L365.7,879.3 L367.1,879.9 L368.5,880.6 L369.8,881.2 L371.2,881.8 L372.6,882.4 L374.0,883.0 L375.3,883.6 L376.7,884.3 L378.1,884.9 L379.5,885.5 L380.8,886.1 L382.2,886.7 L383.6,887.3 L385.0,888.0 L386.3,888.6 L387.7,889.2 L389.1,889.8 L390.5,890.5 L391.8,891.1 L393.2,891.7 L394.6,892.4 L395.9,893.0 L397.3,893.6 L398.7,894.3 L400.0,894.9 L401.4,895.6 L402.8,896.2 L404.1,896.9 L405.5,897.5 L406.8,898.2 L408.2,898.8 L409.5,899.5 L410.9,900.2 L412.3,900.8 L413.6,901.5 L415.0,902.2 L416.3,902.9 L417.6,903.5 L419.0,904.2 L420.3,904.9 L421.7,905.6 L423.0,906.3 L424.3,907.1 L425.6,907.8 L427.0,908.5 L428.3,909.2 L429.6,910.0 L430.9,910.7 L432.2,911.5 L433.5,912.2 L434.8,913.0 L436.1,913.8 L437.3,914.6 L438.6,915.4 L439.8,916.2 L441.1,917.0 L442.3,917.9 L443.6,918.7 L444.8,919.6 L446.0,920.5 L447.2,921.4 L448.3,922.3 L449.5,923.2 L450.7,924.1 L451.8,925.1 L452.9,926.0 L454.0,927.0 L455.1,928.0 L456.2,929.0 L457.3,930.0 L458.4,931.1 L459.4,932.2 L460.4,933.2 L461.4,934.4 L462.4,935.5 L463.4,936.6 L464.3,937.8 L465.3,938.9 L466.2,940.1 L467.1,941.3 L468.0,942.5 L468.9,943.8 L469.8,945.0 L470.6,946.3 L471.5,947.5 L472.3,948.8 L473.2,950.1 L474.0,951.4 L474.8,952.7 L475.6,954.0 L476.4,955.3 L477.2,956.6 L478.0,957.9 L478.8,959.2 L479.5,960.5 L480.3,961.8 L481.1,963.2 L481.9,964.5 L482.6,965.8 L483.4,967.1 L484.1,968.4 L484.9,969.8 L485.6,971.1 L486.4,972.4 L487.1,973.8 L487.8,975.1 L488.6,976.4 L489.3,977.7 L490.0,979.1 L490.7,980.4 L491.4,981.8 L492.1,983.1 L492.8,984.4 L493.5,985.8 L494.2,987.1 L494.9,988.5 L495.5,989.8 L496.2,991.2 L496.8,992.5 L497.5,993.9 L498.1,995.2 L498.8,996.6 L499.4,997.9 L500.0,999.3 L500.7,1000.7 L501.3,1002.0 L501.9,1003.4 L502.5,1004.8 L503.1,1006.1 L503.7,1007.5 L504.2,1008.9 L504.8,1010.3 L505.4,1011.7 L505.9,1013.0 L506.5,1014.4 L507.0,1015.8 L507.5,1017.2 L508.1,1018.6 L508.6,1020.0 L509.1,1021.4 L509.6,1022.8 L510.1,1024.2 L510.6,1025.6 L511.0,1027.0 L511.5,1028.5 L511.9,1029.9 L512.4,1031.3 L512.8,1032.7 L513.3,1034.2 L513.7,1035.6 L514.1,1037.0 L514.5,1038.5 L514.9,1039.9 L515.3,1041.4 L515.6,1042.8 L516.0,1044.3 L516.4,1045.7 L516.7,1047.2 L517.0,1048.6 L517.4,1050.1 L517.7,1051.6 L518.0,1053.0 L518.3,1054.5 L518.6,1056.0 L518.9,1057.5 L519.2,1059.0 L519.4,1060.4 L519.7,1061.9 L520.0,1063.4 L520.2,1064.9 L520.5,1066.4 L520.7,1067.9 L520.9,1069.4 L521.2,1070.9 L521.4,1072.4 L521.6,1073.9 L521.8,1075.4 L522.0,1076.9 L522.2,1078.4 L522.4,1079.9 L522.6,1081.4 L522.8,1082.9 L522.9,1084.4 L523.1,1086.0 L523.3,1087.5 L523.4,1089.0 L523.6,1090.5 L523.7,1092.0 L523.9,1093.5 L524.0,1095.0 L524.2,1096.6 L524.3,1098.1 L524.5,1099.6 L524.6,1101.1 L524.7,1102.6 L524.8,1104.1 L525.0,1105.7 L525.1,1107.2 L525.2,1108.7 L525.3,1110.2 L525.4,1111.7 L525.5,1113.2 L525.6,1114.8 L525.8,1116.3 L525.9,1117.8 L526.0,1119.3 L526.1,1120.8 L526.2,1122.3 L526.3,1123.8 L526.4,1125.3 L526.5,1126.9 L526.6,1128.4 L526.7,1129.9 L526.8,1131.4 L526.9,1132.9 L527.0,1134.4 L527.1,1135.9 L527.2,1137.4 L527.3,1138.9 L527.4,1140.4 L527.5,1141.9 L527.6,1143.3 L527.7,1144.8 L527.8,1146.3 L527.9,1147.8 L528.0,1149.3 L528.1,1150.8 L528.3,1152.2 L528.4,1153.7 L528.5,1155.2 L528.6,1156.7 L528.7,1158.1 L528.9,1159.6 L529.0,1161.0" stroke="#e02a36" stroke-width="2.9" fill="none" stroke-linejoin="round" stroke-linecap="round"/>
<path d="M114.7,1087.0 L114.7,1085.5 L114.7,1084.0 L114.8,1082.5 L114.8,1081.0 L114.8,1079.5 L114.8,1078.0 L114.9,1076.5 L114.9,1075.0 L115.0,1073.5 L115.0,1072.0 L115.1,1070.5 L115.2,1069.0 L115.2,1067.5 L115.3,1066.0 L115.4,1064.4 L115.5,1062.9 L115.6,1061.4 L115.7,1059.9 L115.8,1058.4 L115.9,1056.9 L116.0,1055.4 L116.1,1053.9 L116.2,1052.4 L116.3,1050.9 L116.5,1049.4 L116.6,1047.9 L116.8,1046.4 L116.9,1044.9 L117.0,1043.4 L117.2,1041.9 L117.4,1040.4 L117.5,1038.8 L117.7,1037.3 L117.8,1035.8 L118.0,1034.3 L118.2,1032.8 L118.4,1031.3 L118.6,1029.8 L118.8,1028.3 L118.9,1026.8 L119.1,1025.3 L119.3,1023.8 L119.5,1022.3 L119.8,1020.8 L120.0,1019.3 L120.2,1017.8 L120.4,1016.3 L120.6,1014.8 L120.8,1013.3 L121.1,1011.8 L121.3,1010.4 L121.5,1008.9 L121.8,1007.4 L122.0,1005.9 L122.2,1004.4 L122.5,1002.9 L122.7,1001.4 L123.0,999.9 L123.2,998.4 L123.5,997.0 L123.8,995.5 L124.0,994.0 L124.3,992.5 L124.5,991.0 L124.8,989.6 L125.1,988.1 L125.4,986.6 L125.6,985.1 L125.9,983.7 L126.2,982.2 L126.5,980.7 L126.8,979.3 L127.1,977.8 L127.4,976.3 L127.7,974.9 L128.0,973.4 L128.3,971.9 L128.6,970.5 L128.9,969.0 L129.2,967.5 L129.5,966.1 L129.9,964.6 L130.2,963.2 L130.5,961.7 L130.8,960.2 L131.2,958.8 L131.5,957.3 L131.9,955.9 L132.2,954.4 L132.6,952.9 L132.9,951.5 L133.3,950.0 L133.6,948.6 L134.0,947.1 L134.4,945.7 L134.7,944.2 L135.1,942.8 L135.5,941.3 L135.9,939.9 L136.3,938.4 L136.7,936.9 L137.1,935.5 L137.5,934.0 L137.9,932.6 L138.3,931.1 L138.7,929.7 L139.1,928.2 L139.5,926.8 L140.0,925.3 L140.4,923.9 L140.8,922.4 L141.3,921.0 L141.7,919.5 L142.2,918.1 L142.6,916.6 L143.1,915.2 L143.5,913.7 L144.0,912.2 L144.5,910.8 L144.9,909.3 L145.4,907.9 L145.9,906.4 L146.4,905.0 L146.9,903.5 L147.4,902.1 L147.9,900.6 L148.4,899.1 L148.9,897.7 L149.5,896.2 L150.0,894.8 L150.5,893.3 L151.1,891.9 L151.7,890.5 L152.2,889.1 L152.8,887.7 L153.5,886.3 L154.1,884.9 L154.7,883.5 L155.4,882.2 L156.1,880.9 L156.9,879.6 L157.6,878.4 L158.4,877.1 L159.2,875.9 L160.0,874.8 L160.9,873.6 L161.8,872.5 L162.8,871.4 L163.8,870.4 L164.8,869.4 L165.8,868.5 L166.9,867.6 L168.1,866.7 L169.3,865.9 L170.5,865.1 L171.8,864.4 L173.0,863.7 L174.4,863.0 L175.7,862.4 L177.1,861.8 L178.5,861.2 L179.9,860.7 L181.4,860.1 L182.8,859.6 L184.3,859.1 L185.8,858.6 L187.3,858.1 L188.8,857.7 L190.3,857.2 L191.8,856.7 L193.3,856.2 L194.8,855.8 L196.3,855.3 L197.7,854.8 L199.2,854.3 L200.7,853.7 L202.1,853.2 L203.5,852.7 L205.0,852.1 L206.4,851.6 L207.8,851.0 L209.2,850.5 L210.6,849.9 L212.0,849.3 L213.4,848.7 L214.8,848.1 L216.2,847.5 L217.6,846.9 L218.9,846.3 L220.3,845.7 L221.6,845.0 L223.0,844.4 L224.3,843.7 L225.7,843.1 L227.0,842.4 L228.3,841.7 L229.7,841.1 L231.0,840.4 L232.3,839.7 L233.6,839.0 L234.9,838.3 L236.2,837.6 L237.5,836.9 L238.8,836.1 L240.1,835.4 L241.4,834.7 L242.7,833.9 L244.0,833.2 L245.3,832.4 L246.6,831.7 L247.9,830.9 L249.1,830.1 L250.4,829.4 L251.7,828.6 L253.0,827.8 L254.2,827.0 L255.5,826.2 L256.8,825.4 L258.1,824.6 L259.3,823.8 L260.6,823.0 L261.9,822.2 L263.2,821.4 L264.4,820.5 L265.7,819.7 L267.0,818.9 L268.3,818.1 L269.5,817.3 L270.8,816.4 L272.1,815.6 L273.4,814.8 L274.7,814.0 L276.0,813.2 L277.2,812.4 L278.5,811.6 L279.8,810.8 L281.1,810.0 L282.4,809.2 L283.7,808.4 L285.0,807.7 L286.4,806.9 L287.7,806.2 L289.0,805.4 L290.3,804.7 L291.7,804.0 L293.0,803.3 L294.3,802.6 L295.7,801.9 L297.0,801.3 L298.4,800.6 L299.7,800.0 L301.1,799.4 L302.5,798.7 L303.8,798.1 L305.2,797.5 L306.6,796.9 L308.0,796.4 L309.4,795.8 L310.7,795.2 L312.1,794.7 L313.5,794.1 L314.9,793.6 L316.3,793.1 L317.7,792.5 L319.1,792.0 L320.6,791.5 L322.0,791.0 L323.4,790.5 L324.8,790.0 L326.2,789.5 L327.7,789.0 L329.1,788.5 L330.5,788.0 L331.9,787.5 L333.4,787.0 L334.8,786.5 L336.2,786.0 L337.7,785.5 L339.1,785.1 L340.5,784.6 L342.0,784.1 L343.4,783.6 L344.8,783.1 L346.3,782.6 L347.7,782.2 L349.1,781.7 L350.6,781.2 L352.0,780.7 L353.4,780.2 L354.8,779.7 L356.3,779.2 L357.7,778.7 L359.1,778.2 L360.5,777.6 L362.0,777.1 L363.4,776.6 L364.8,776.1 L366.2,775.5 L367.6,775.0 L369.0,774.4 L370.4,773.9 L371.8,773.3 L373.2,772.7 L374.6,772.1 L376.0,771.5 L377.3,770.9 L378.7,770.3 L380.1,769.7 L381.4,769.1 L382.8,768.4 L384.1,767.8 L385.5,767.1 L386.8,766.4 L388.2,765.7 L389.5,765.1 L390.8,764.4 L392.2,763.7 L393.5,762.9 L394.8,762.2 L396.1,761.5 L397.4,760.8 L398.8,760.0 L400.1,759.3 L401.4,758.5 L402.7,757.8 L404.0,757.0 L405.3,756.3 L406.5,755.5 L407.8,754.7 L409.1,753.9 L410.4,753.2 L411.7,752.4 L413.0,751.6 L414.3,750.8 L415.5,750.0 L416.8,749.2 L418.1,748.4 L419.4,747.6 L420.6,746.8 L421.9,746.0 L423.2,745.2 L424.5,744.4 L425.7,743.6 L427.0,742.9 L428.3,742.1 L429.6,741.3 L430.8,740.5 L432.1,739.7 L433.4,738.9 L434.7,738.2 L436.0,737.4 L437.3,736.7 L438.6,736.0 L439.9,735.2 L441.2,734.5 L442.6,733.8 L443.9,733.1 L445.2,732.5 L446.6,731.8 L447.9,731.2 L449.3,730.6 L450.7,729.9 L452.1,729.3 L453.5,728.7 L454.8,728.1 L456.2,727.5 L457.6,726.9 L459.0,726.4 L460.4,725.8 L461.8,725.2 L463.2,724.6 L464.6,724.0 L466.0,723.4 L467.4,722.8 L468.7,722.2 L470.1,721.6 L471.5,720.9 L472.8,720.3 L474.2,719.6 L475.5,718.9 L476.9,718.2 L478.2,717.5 L479.5,716.8 L480.8,716.0 L482.1,715.2 L483.4,714.4 L484.7,713.6 L485.9,712.8 L487.1,711.9 L488.4,711.0 L489.6,710.0" stroke="#1c9a58" stroke-width="2.9" fill="none" stroke-linejoin="round" stroke-linecap="round"/>
<path d="M114.7,740.8 L114.7,742.2 L114.7,743.7 L114.7,745.2 L114.7,746.7 L114.7,748.2 L114.7,749.7 L114.7,751.3 L114.7,752.8 L114.7,754.3 L114.7,755.9 L114.7,757.4 L114.7,758.9 L114.8,760.5 L115.0,762.0 L115.2,763.5 L115.4,765.0 L115.7,766.5 L116.1,767.9 L116.4,769.4 L116.9,770.8 L117.4,772.2 L117.9,773.6 L118.5,774.9 L119.2,776.2 L119.9,777.5 L120.7,778.7 L121.6,779.9 L122.5,781.1 L123.4,782.2 L124.4,783.4 L125.4,784.4 L126.5,785.5 L127.6,786.5 L128.8,787.4 L130.0,788.4 L131.2,789.3 L132.4,790.2 L133.7,791.0 L135.0,791.8 L136.3,792.6 L137.6,793.3 L139.0,794.0 L140.3,794.7 L141.7,795.4 L143.0,796.0 L144.4,796.7 L145.8,797.3 L147.2,797.9 L148.6,798.5 L150.0,799.1 L151.3,799.8 L152.7,800.4 L154.1,801.0 L155.5,801.6 L156.8,802.3 L158.2,802.9 L159.5,803.6 L160.8,804.3 L162.1,805.1 L163.4,805.8 L164.7,806.6 L165.9,807.5 L167.1,808.3 L168.3,809.2 L169.5,810.2 L170.7,811.2 L171.8,812.2 L172.9,813.2 L174.0,814.3 L175.1,815.3 L176.2,816.4 L177.3,817.4 L178.4,818.5 L179.5,819.5 L180.6,820.6 L181.8,821.6 L182.9,822.6 L184.1,823.5 L185.2,824.4 L186.4,825.3 L187.7,826.1 L188.9,827.0 L190.2,827.8 L191.4,828.5 L192.7,829.3 L194.0,830.0 L195.3,830.7 L196.6,831.3 L198.0,832.0 L199.3,832.6 L200.7,833.2 L202.1,833.8 L203.4,834.4 L204.8,835.0 L206.2,835.5 L207.6,836.1 L209.0,836.7 L210.4,837.2 L211.8,837.7 L213.2,838.3 L214.6,838.8 L216.0,839.3 L217.4,839.9 L218.8,840.4 L220.2,841.0 L221.6,841.5 L223.0,842.1 L224.4,842.6 L225.8,843.2 L227.2,843.8 L228.5,844.4 L229.9,845.0 L231.3,845.6 L232.7,846.2 L234.0,846.8 L235.4,847.4 L236.8,848.0 L238.1,848.6 L239.5,849.2 L240.8,849.8 L242.2,850.5 L243.6,851.1 L244.9,851.7 L246.3,852.4 L247.6,853.0 L249.0,853.6 L250.3,854.2 L251.7,854.9 L253.1,855.5 L254.4,856.1 L255.8,856.7 L257.2,857.4 L258.5,858.0 L259.9,858.6 L261.3,859.2 L262.6,859.8 L264.0,860.4 L265.4,861.1 L266.7,861.7 L268.1,862.3 L269.5,862.9 L270.9,863.5 L272.2,864.1 L273.6,864.7 L275.0,865.3 L276.4,865.9 L277.7,866.6 L279.1,867.2 L280.5,867.8 L281.8,868.4 L283.2,869.1 L284.6,869.7 L285.9,870.3 L287.3,871.0 L288.6,871.6 L290.0,872.3 L291.4,872.9 L292.7,873.6 L294.0,874.2 L295.4,874.9 L296.7,875.6 L298.1,876.3 L299.4,876.9 L300.7,877.6 L302.1,878.3 L303.4,879.0 L304.7,879.7 L306.1,880.4 L307.4,881.1 L308.7,881.8 L310.0,882.5 L311.4,883.2 L312.7,883.9 L314.0,884.7 L315.3,885.4 L316.7,886.1 L318.0,886.8 L319.3,887.5 L320.7,888.2 L322.0,888.9 L323.3,889.6 L324.7,890.2 L326.0,890.9 L327.3,891.6 L328.7,892.3 L330.0,893.0 L331.4,893.6 L332.7,894.3 L334.1,895.0 L335.4,895.6 L336.8,896.3 L338.1,897.0 L339.5,897.6 L340.8,898.3 L342.2,898.9 L343.5,899.6 L344.9,900.2 L346.2,900.9 L347.6,901.5 L349.0,902.2 L350.3,902.8 L351.7,903.5 L353.0,904.2 L354.4,904.8 L355.7,905.5 L357.1,906.1 L358.4,906.8 L359.8,907.4 L361.2,908.1 L362.5,908.7 L363.9,909.4 L365.2,910.1 L366.6,910.7 L367.9,911.4 L369.2,912.1 L370.6,912.8 L371.9,913.4 L373.3,914.1 L374.6,914.8 L375.9,915.5 L377.3,916.2 L378.6,916.9 L379.9,917.6 L381.2,918.3 L382.6,919.1 L383.9,919.8 L385.2,920.5 L386.5,921.2 L387.8,922.0 L389.1,922.7 L390.4,923.5 L391.7,924.2 L393.0,925.0 L394.3,925.8 L395.6,926.6 L396.8,927.4 L398.1,928.2 L399.4,929.0 L400.6,929.8 L401.9,930.6 L403.2,931.5 L404.4,932.3 L405.6,933.2 L406.9,934.0 L408.1,934.9 L409.3,935.8 L410.5,936.7 L411.7,937.6 L412.9,938.5 L414.1,939.5 L415.2,940.4 L416.4,941.4 L417.5,942.4 L418.6,943.4 L419.7,944.4 L420.7,945.4 L421.8,946.5 L422.8,947.6 L423.8,948.7 L424.8,949.8 L425.7,950.9 L426.7,952.1 L427.6,953.2 L428.4,954.4 L429.3,955.6 L430.1,956.9 L430.9,958.1 L431.7,959.4 L432.4,960.7 L433.2,962.0 L433.9,963.3 L434.6,964.7 L435.3,966.0 L435.9,967.4 L436.6,968.7 L437.2,970.1 L437.9,971.5 L438.5,972.9 L439.1,974.3 L439.7,975.7 L440.3,977.1 L440.9,978.4 L441.6,979.8 L442.2,981.2 L442.8,982.6 L443.4,984.0 L444.0,985.4 L444.6,986.8 L445.3,988.2 L445.9,989.5 L446.5,990.9 L447.1,992.3 L447.8,993.7 L448.4,995.0 L449.0,996.4 L449.6,997.8 L450.3,999.2 L450.9,1000.5 L451.5,1001.9 L452.1,1003.3 L452.7,1004.6 L453.3,1006.0 L454.0,1007.4 L454.6,1008.7 L455.2,1010.1 L455.8,1011.5 L456.3,1012.8 L456.9,1014.2 L457.5,1015.6 L458.1,1017.0 L458.7,1018.4 L459.2,1019.7 L459.8,1021.1 L460.3,1022.5 L460.9,1023.9 L461.4,1025.3 L461.9,1026.7 L462.4,1028.1 L462.9,1029.5 L463.4,1030.9 L463.9,1032.3 L464.4,1033.7 L464.9,1035.1 L465.3,1036.5 L465.8,1038.0 L466.2,1039.4 L466.7,1040.8 L467.1,1042.3 L467.5,1043.7 L467.9,1045.2 L468.3,1046.6 L468.7,1048.1 L469.0,1049.5 L469.4,1051.0 L469.7,1052.4 L470.1,1053.9 L470.4,1055.4 L470.7,1056.9 L471.1,1058.3 L471.4,1059.8 L471.7,1061.3 L472.0,1062.8 L472.3,1064.3 L472.6,1065.7 L472.9,1067.2 L473.1,1068.7 L473.4,1070.2 L473.7,1071.7 L474.0,1073.2 L474.2,1074.7 L474.5,1076.2 L474.7,1077.6 L475.0,1079.1 L475.3,1080.6 L475.5,1082.1 L475.8,1083.6 L476.0,1085.1 L476.3,1086.6 L476.5,1088.1 L476.7,1089.6 L477.0,1091.0 L477.2,1092.5 L477.5,1094.0 L477.7,1095.5 L477.9,1097.0 L478.1,1098.5 L478.4,1099.9 L478.6,1101.4 L478.8,1102.9 L479.0,1104.4 L479.2,1105.9 L479.5,1107.4 L479.7,1108.8 L479.9,1110.3 L480.1,1111.8 L480.3,1113.3 L480.5,1114.8 L480.7,1116.3 L480.9,1117.8 L481.0,1119.2 L481.2,1120.7 L481.4,1122.2 L481.6,1123.7 L481.7,1125.2 L481.9,1126.7 L482.1,1128.2 L482.2,1129.7 L482.4,1131.2 L482.5,1132.7 L482.7,1134.1 L482.8,1135.6 L483.0,1137.1 L483.1,1138.6 L483.2,1140.1 L483.4,1141.6 L483.5,1143.1 L483.6,1144.6 L483.7,1146.1 L483.8,1147.6 L483.9,1149.1 L484.0,1150.6 L484.1,1152.1 L484.2,1153.6 L484.3,1155.2 L484.4,1156.7 L484.5,1158.2 L484.5,1159.7 L484.6,1161.2" stroke="#1c9a58" stroke-width="2.9" fill="none" stroke-linejoin="round" stroke-linecap="round"/>
<path d="M114.7,1026.2 L114.7,1024.7 L114.7,1023.1 L114.7,1021.6 L114.7,1020.1 L114.7,1018.6 L114.7,1017.1 L114.7,1015.5 L114.7,1014.0 L114.7,1012.5 L114.7,1011.0 L114.7,1009.5 L114.7,1008.0 L114.7,1006.4 L114.7,1004.9 L114.7,1003.4 L114.7,1001.9 L114.7,1000.4 L114.7,998.9 L114.8,997.4 L114.8,995.9 L114.9,994.4 L115.0,992.9 L115.0,991.4 L115.1,989.9 L115.2,988.4 L115.3,986.9 L115.4,985.4 L115.4,983.9 L115.5,982.4 L115.6,980.9 L115.8,979.4 L115.9,977.9 L116.0,976.4 L116.1,974.9 L116.2,973.4 L116.4,971.9 L116.5,970.4 L116.6,968.9 L116.8,967.4 L116.9,965.9 L117.1,964.4 L117.2,962.9 L117.4,961.4 L117.6,959.9 L117.8,958.4 L117.9,957.0 L118.1,955.5 L118.3,954.0 L118.5,952.5 L118.7,951.0 L118.9,949.5 L119.1,948.0 L119.3,946.5 L119.5,945.1 L119.7,943.6 L120.0,942.1 L120.2,940.6 L120.4,939.1 L120.7,937.6 L120.9,936.2 L121.1,934.7 L121.4,933.2 L121.6,931.7 L121.9,930.2 L122.2,928.8 L122.4,927.3 L122.7,925.8 L123.0,924.3 L123.3,922.8 L123.6,921.4 L123.8,919.9 L124.1,918.4 L124.4,916.9 L124.7,915.5 L125.0,914.0 L125.4,912.5 L125.7,911.0 L126.0,909.6 L126.3,908.1 L126.6,906.6 L127.0,905.1 L127.3,903.7 L127.6,902.2 L128.0,900.7 L128.3,899.2 L128.7,897.8 L129.1,896.3 L129.4,894.8 L129.8,893.4 L130.2,891.9 L130.5,890.4 L130.9,889.0 L131.3,887.5 L131.7,886.0 L132.1,884.5 L132.5,883.1 L132.9,881.6 L133.3,880.1 L133.7,878.7 L134.1,877.2 L134.5,875.7 L134.9,874.3 L135.4,872.8 L135.8,871.4 L136.3,869.9 L136.7,868.5 L137.2,867.0 L137.7,865.6 L138.2,864.2 L138.7,862.7 L139.2,861.3 L139.8,859.9 L140.4,858.5 L140.9,857.1 L141.5,855.8 L142.2,854.4 L142.8,853.1 L143.5,851.7 L144.1,850.4 L144.9,849.1 L145.6,847.8 L146.3,846.5 L147.1,845.2 L147.9,844.0 L148.8,842.8 L149.6,841.6 L150.5,840.4 L151.5,839.3 L152.4,838.2 L153.4,837.1 L154.5,836.0 L155.5,835.0 L156.6,834.1 L157.8,833.1 L158.9,832.2 L160.1,831.4 L161.3,830.5 L162.5,829.7 L163.7,828.9 L165.0,828.1 L166.3,827.4 L167.6,826.7 L168.9,826.0 L170.2,825.3 L171.6,824.6 L172.9,824.0 L174.3,823.3 L175.6,822.7 L177.0,822.1 L178.4,821.5 L179.8,820.9 L181.2,820.3 L182.6,819.7 L184.0,819.1 L185.4,818.6 L186.9,818.0 L188.3,817.4 L189.7,816.8 L191.1,816.2 L192.5,815.6 L193.9,815.0 L195.3,814.4 L196.7,813.8 L198.1,813.1 L199.4,812.5 L200.8,811.8 L202.2,811.2 L203.5,810.5 L204.9,809.8 L206.2,809.1 L207.5,808.4 L208.8,807.6 L210.2,806.9 L211.5,806.1 L212.8,805.4 L214.1,804.6 L215.4,803.9 L216.6,803.1 L217.9,802.3 L219.2,801.5 L220.5,800.7 L221.7,799.9 L223.0,799.1 L224.3,798.3 L225.5,797.4 L226.8,796.6 L228.0,795.8 L229.3,795.0 L230.5,794.1 L231.8,793.3 L233.0,792.5 L234.3,791.6 L235.5,790.8 L236.8,789.9 L238.0,789.1 L239.3,788.3 L240.5,787.4 L241.8,786.6 L243.0,785.8 L244.3,784.9 L245.5,784.1 L246.8,783.3 L248.0,782.5 L249.3,781.6 L250.5,780.8 L251.8,780.0 L253.1,779.2 L254.3,778.4 L255.6,777.6 L256.9,776.8 L258.2,776.1 L259.5,775.3 L260.8,774.5 L262.1,773.8 L263.4,773.0 L264.7,772.3 L266.0,771.6 L267.3,770.8 L268.6,770.1 L269.9,769.4 L271.3,768.7 L272.6,768.0 L274.0,767.3 L275.3,766.7 L276.7,766.0 L278.0,765.3 L279.4,764.7 L280.7,764.0 L282.1,763.4 L283.5,762.7 L284.8,762.1 L286.2,761.5 L287.6,760.8 L288.9,760.2 L290.3,759.6 L291.7,759.0 L293.1,758.4 L294.5,757.8 L295.9,757.1 L297.2,756.5 L298.6,755.9 L300.0,755.4 L301.4,754.8 L302.8,754.2 L304.2,753.6 L305.6,753.0 L307.0,752.4 L308.4,751.8 L309.8,751.2 L311.2,750.6 L312.6,750.1 L314.0,749.5 L315.3,748.9 L316.7,748.3 L318.1,747.7 L319.5,747.1 L320.9,746.6 L322.3,746.0 L323.7,745.4 L325.1,744.8 L326.5,744.2 L327.8,743.7 L329.2,743.1 L330.6,742.5 L332.0,741.9 L333.4,741.3 L334.8,740.7 L336.2,740.1 L337.5,739.5 L338.9,738.9 L340.3,738.4 L341.7,737.8 L343.1,737.2 L344.4,736.6 L345.8,736.0 L347.2,735.4 L348.6,734.8 L349.9,734.1 L351.3,733.5 L352.7,732.9 L354.0,732.3 L355.4,731.7 L356.8,731.1 L358.1,730.4 L359.5,729.8 L360.9,729.2 L362.2,728.6 L363.6,727.9 L364.9,727.3 L366.3,726.6 L367.7,726.0 L369.0,725.3 L370.4,724.7 L371.7,724.0 L373.1,723.4 L374.4,722.7 L375.8,722.0 L377.1,721.4 L378.5,720.7 L379.8,720.0 L381.1,719.3 L382.5,718.6 L383.8,717.9 L385.1,717.2 L386.5,716.5 L387.8,715.8 L389.1,715.1 L390.5,714.3 L391.8,713.6 L393.1,712.9 L394.4,712.1 L395.7,711.4 L397.1,710.6 L398.4,709.9" stroke="#3c3c9c" stroke-width="2.9" fill="none" stroke-linejoin="round" stroke-linecap="round"/>
<path d="M115.1,783.5 L115.0,784.9 L115.0,786.3 L114.9,787.7 L114.9,789.1 L114.8,790.5 L114.7,792.0 L114.7,793.5 L114.7,794.9 L114.7,796.5 L114.7,798.0 L114.7,799.5 L114.7,801.0 L114.7,802.6 L114.7,804.1 L114.7,805.7 L114.7,807.2 L114.7,808.8 L114.7,810.4 L114.7,811.9 L114.7,813.5 L114.8,815.1 L114.9,816.6 L115.0,818.2 L115.2,819.8 L115.4,821.3 L115.5,822.9 L115.8,824.4 L116.0,826.0 L116.3,827.5 L116.6,829.0 L116.9,830.5 L117.2,832.0 L117.6,833.5 L118.0,834.9 L118.4,836.3 L118.9,837.8 L119.4,839.2 L119.9,840.6 L120.5,841.9 L121.1,843.3 L121.8,844.6 L122.5,845.9 L123.2,847.1 L124.0,848.4 L124.7,849.6 L125.6,850.8 L126.4,851.9 L127.3,853.1 L128.3,854.2 L129.2,855.3 L130.2,856.4 L131.3,857.4 L132.3,858.4 L133.4,859.4 L134.5,860.4 L135.7,861.3 L136.8,862.2 L138.0,863.1 L139.2,864.0 L140.4,864.9 L141.7,865.7 L142.9,866.5 L144.2,867.4 L145.5,868.2 L146.8,869.0 L148.1,869.7 L149.4,870.5 L150.7,871.3 L152.0,872.1 L153.3,872.9 L154.6,873.6 L155.9,874.4 L157.2,875.2 L158.5,875.9 L159.8,876.7 L161.1,877.4 L162.5,878.2 L163.8,879.0 L165.1,879.7 L166.4,880.5 L167.7,881.2 L169.0,882.0 L170.3,882.7 L171.7,883.4 L173.0,884.2 L174.3,884.9 L175.6,885.7 L176.9,886.4 L178.3,887.1 L179.6,887.9 L180.9,888.6 L182.2,889.3 L183.5,890.1 L184.9,890.8 L186.2,891.5 L187.5,892.2 L188.8,893.0 L190.2,893.7 L191.5,894.4 L192.8,895.1 L194.1,895.8 L195.5,896.6 L196.8,897.3 L198.1,898.0 L199.4,898.7 L200.8,899.4 L202.1,900.1 L203.4,900.9 L204.7,901.6 L206.1,902.3 L207.4,903.0 L208.7,903.7 L210.1,904.4 L211.4,905.1 L212.7,905.8 L214.0,906.5 L215.4,907.2 L216.7,908.0 L218.0,908.7 L219.4,909.4 L220.7,910.1 L222.0,910.8 L223.3,911.5 L224.7,912.2 L226.0,912.9 L227.3,913.6 L228.7,914.3 L230.0,915.0 L231.3,915.7 L232.6,916.5 L234.0,917.2 L235.3,917.9 L236.6,918.6 L237.9,919.3 L239.3,920.0 L240.6,920.7 L241.9,921.4 L243.2,922.1 L244.6,922.9 L245.9,923.6 L247.2,924.3 L248.5,925.0 L249.9,925.7 L251.2,926.4 L252.5,927.2 L253.8,927.9 L255.1,928.6 L256.5,929.3 L257.8,930.0 L259.1,930.8 L260.4,931.5 L261.7,932.2 L263.0,933.0 L264.4,933.7 L265.7,934.4 L267.0,935.2 L268.3,935.9 L269.6,936.6 L270.9,937.4 L272.2,938.1 L273.5,938.8 L274.9,939.6 L276.2,940.3 L277.5,941.1 L278.8,941.8 L280.1,942.6 L281.4,943.3 L282.7,944.1 L284.0,944.8 L285.3,945.5 L286.7,946.3 L288.0,947.0 L289.3,947.8 L290.6,948.5 L291.9,949.3 L293.2,950.0 L294.5,950.8 L295.9,951.5 L297.2,952.3 L298.5,953.0 L299.8,953.8 L301.1,954.5 L302.5,955.2 L303.8,956.0 L305.1,956.7 L306.5,957.5 L307.8,958.2 L309.1,958.9 L310.5,959.7 L311.8,960.4 L313.1,961.1 L314.5,961.9 L315.8,962.6 L317.1,963.3 L318.5,964.1 L319.8,964.9 L321.1,965.6 L322.4,966.4 L323.7,967.2 L324.9,968.0 L326.2,968.8 L327.4,969.7 L328.7,970.5 L329.9,971.4 L331.0,972.3 L332.2,973.2 L333.4,974.1 L334.5,975.1 L335.6,976.1 L336.7,977.1 L337.8,978.1 L338.8,979.1 L339.8,980.2 L340.9,981.2 L341.9,982.3 L342.8,983.4 L343.8,984.5 L344.8,985.7 L345.7,986.8 L346.6,988.0 L347.5,989.2 L348.4,990.3 L349.3,991.5 L350.1,992.8 L351.0,994.0 L351.8,995.2 L352.6,996.5 L353.4,997.7 L354.2,999.0 L355.0,1000.3 L355.8,1001.6 L356.5,1002.9 L357.2,1004.2 L358.0,1005.5 L358.7,1006.8 L359.4,1008.2 L360.1,1009.5 L360.8,1010.8 L361.4,1012.2 L362.1,1013.5 L362.8,1014.9 L363.4,1016.3 L364.0,1017.6 L364.7,1019.0 L365.3,1020.4 L365.9,1021.8 L366.5,1023.2 L367.1,1024.6 L367.7,1025.9 L368.2,1027.3 L368.8,1028.7 L369.4,1030.1 L369.9,1031.5 L370.5,1033.0 L371.0,1034.4 L371.5,1035.8 L372.0,1037.2 L372.6,1038.6 L373.1,1040.0 L373.6,1041.5 L374.1,1042.9 L374.5,1044.3 L375.0,1045.7 L375.5,1047.2 L376.0,1048.6 L376.4,1050.1 L376.9,1051.5 L377.3,1052.9 L377.7,1054.4 L378.2,1055.8 L378.6,1057.3 L379.0,1058.7 L379.4,1060.2 L379.8,1061.6 L380.2,1063.1 L380.6,1064.6 L381.0,1066.0 L381.4,1067.5 L381.8,1068.9 L382.1,1070.4 L382.5,1071.9 L382.9,1073.3 L383.2,1074.8 L383.6,1076.3 L383.9,1077.8 L384.3,1079.2 L384.6,1080.7 L384.9,1082.2 L385.3,1083.7 L385.6,1085.1 L385.9,1086.6 L386.2,1088.1 L386.5,1089.6 L386.8,1091.1 L387.1,1092.6 L387.4,1094.0 L387.7,1095.5 L388.0,1097.0 L388.3,1098.5 L388.6,1100.0 L388.8,1101.5 L389.1,1103.0 L389.4,1104.5 L389.7,1105.9 L389.9,1107.4 L390.2,1108.9 L390.4,1110.4 L390.7,1111.9 L390.9,1113.4 L391.2,1114.9 L391.4,1116.4 L391.7,1117.9 L391.9,1119.4 L392.2,1120.8 L392.4,1122.3 L392.6,1123.8 L392.9,1125.3 L393.1,1126.8 L393.3,1128.3 L393.5,1129.8 L393.8,1131.3 L394.0,1132.7 L394.2,1134.2 L394.4,1135.7 L394.6,1137.2 L394.9,1138.7 L395.1,1140.2 L395.3,1141.6 L395.5,1143.1 L395.7,1144.6 L395.9,1146.1 L396.1,1147.6 L396.3,1149.0 L396.6,1150.5 L396.8,1152.0 L397.0,1153.5 L397.2,1154.9 L397.4,1156.4 L397.6,1157.9 L397.8,1159.3 L398.0,1160.8" stroke="#3c3c9c" stroke-width="2.9" fill="none" stroke-linejoin="round" stroke-linecap="round"/>
<path d="M114.7,991.7 L114.7,990.2 L114.7,988.7 L114.7,987.2 L114.7,985.7 L114.7,984.2 L114.7,982.6 L114.7,981.1 L114.7,979.6 L114.7,978.1 L114.7,976.6 L114.7,975.1 L114.7,973.6 L114.7,972.1 L114.7,970.5 L114.7,969.0 L114.7,967.5 L114.7,966.0 L114.8,964.5 L114.8,963.0 L114.8,961.5 L114.8,960.0 L114.8,958.5 L114.9,957.0 L114.9,955.5 L114.9,954.0 L115.0,952.5 L115.0,951.0 L115.0,949.5 L115.1,948.0 L115.1,946.5 L115.1,945.0 L115.2,943.5 L115.2,941.9 L115.3,940.4 L115.3,938.9 L115.4,937.4 L115.4,935.9 L115.5,934.4 L115.6,932.9 L115.6,931.4 L115.7,930.0 L115.8,928.5 L115.8,927.0 L115.9,925.5 L116.0,924.0 L116.1,922.5 L116.2,921.0 L116.3,919.5 L116.4,918.0 L116.5,916.5 L116.6,915.0 L116.7,913.5 L116.8,912.0 L116.9,910.5 L117.0,909.0 L117.1,907.5 L117.2,906.0 L117.4,904.5 L117.5,903.0 L117.6,901.5 L117.8,900.0 L117.9,898.5 L118.1,897.0 L118.2,895.5 L118.4,894.0 L118.5,892.5 L118.7,891.0 L118.9,889.5 L119.0,888.0 L119.2,886.6 L119.4,885.1 L119.6,883.6 L119.8,882.1 L120.0,880.6 L120.2,879.1 L120.4,877.6 L120.6,876.1 L120.8,874.6 L121.1,873.1 L121.3,871.6 L121.5,870.1 L121.8,868.6 L122.0,867.1 L122.3,865.6 L122.5,864.1 L122.8,862.6 L123.1,861.1 L123.4,859.7 L123.7,858.2 L124.0,856.7 L124.3,855.2 L124.6,853.7 L124.9,852.2 L125.2,850.8 L125.5,849.3 L125.9,847.8 L126.2,846.3 L126.6,844.9 L127.0,843.4 L127.3,841.9 L127.7,840.5 L128.1,839.0 L128.5,837.6 L128.9,836.1 L129.3,834.7 L129.8,833.2 L130.2,831.8 L130.6,830.3 L131.1,828.9 L131.5,827.5 L132.0,826.0 L132.5,824.6 L133.0,823.2 L133.5,821.8 L134.0,820.3 L134.5,818.9 L135.1,817.5 L135.6,816.1 L136.2,814.7 L136.7,813.4 L137.3,812.0 L137.9,810.6 L138.5,809.2 L139.1,807.8 L139.8,806.5 L140.4,805.1 L141.1,803.8 L141.7,802.5 L142.4,801.1 L143.2,799.8 L143.9,798.5 L144.6,797.3 L145.4,796.0 L146.2,794.8 L147.1,793.5 L147.9,792.3 L148.8,791.1 L149.7,790.0 L150.7,788.8 L151.6,787.7 L152.6,786.6 L153.6,785.5 L154.7,784.5 L155.8,783.5 L156.9,782.4 L158.0,781.5 L159.1,780.5 L160.3,779.5 L161.4,778.6 L162.6,777.6 L163.8,776.7 L165.0,775.8 L166.2,774.9 L167.5,774.0 L168.7,773.1 L169.9,772.3 L171.2,771.4 L172.5,770.6 L173.7,769.7 L175.0,768.9 L176.3,768.1 L177.6,767.3 L178.9,766.4 L180.1,765.6 L181.4,764.8 L182.7,764.0 L184.0,763.2 L185.3,762.4 L186.6,761.6 L187.9,760.8 L189.2,760.0 L190.5,759.2 L191.8,758.4 L193.1,757.6 L194.3,756.7 L195.6,755.9 L196.9,755.1 L198.2,754.3 L199.4,753.4 L200.7,752.6 L201.9,751.8 L203.2,750.9 L204.4,750.1 L205.7,749.3 L207.0,748.4 L208.2,747.6 L209.4,746.7 L210.7,745.9 L211.9,745.1 L213.2,744.2 L214.4,743.4 L215.7,742.5 L216.9,741.7 L218.2,740.9 L219.4,740.0 L220.6,739.2 L221.9,738.4 L223.1,737.5 L224.4,736.7 L225.6,735.9 L226.9,735.0 L228.1,734.2 L229.4,733.4 L230.6,732.6 L231.9,731.8 L233.1,731.0 L234.4,730.2 L235.7,729.4 L236.9,728.6 L238.2,727.8 L239.5,727.0 L240.8,726.2 L242.0,725.5 L243.3,724.7 L244.6,723.9 L245.9,723.2 L247.2,722.4 L248.5,721.7 L249.8,721.0 L251.2,720.2 L252.5,719.5 L253.8,718.8 L255.2,718.1 L256.5,717.4 L257.8,716.7 L259.2,716.1 L260.6,715.4 L261.9,714.7 L263.3,714.1 L264.7,713.4 L266.1,712.8 L267.5,712.2 L268.9,711.6 L270.3,711.0 L271.7,710.4" stroke="#1eaee6" stroke-width="2.9" fill="none" stroke-linejoin="round" stroke-linecap="round"/>
<path d="M114.8,832.6 L114.8,834.0 L114.8,835.5 L114.8,837.0 L114.7,838.5 L114.7,840.0 L114.7,841.5 L114.7,843.0 L114.7,844.5 L114.7,846.0 L114.7,847.5 L114.7,849.0 L114.7,850.5 L114.7,852.0 L114.7,853.5 L114.7,855.1 L114.7,856.6 L114.7,858.1 L114.7,859.6 L114.7,861.1 L114.7,862.6 L114.7,864.1 L114.7,865.7 L114.7,867.2 L114.7,868.7 L114.7,870.2 L114.7,871.7 L114.7,873.3 L114.7,874.8 L114.8,876.3 L114.8,877.8 L114.9,879.3 L115.0,880.9 L115.1,882.4 L115.3,883.9 L115.4,885.4 L115.5,886.9 L115.7,888.4 L115.9,889.9 L116.0,891.4 L116.2,892.9 L116.5,894.4 L116.7,895.9 L116.9,897.4 L117.2,898.9 L117.4,900.4 L117.7,901.9 L118.0,903.4 L118.3,904.9 L118.7,906.3 L119.0,907.8 L119.4,909.3 L119.7,910.8 L120.1,912.2 L120.5,913.7 L120.9,915.1 L121.4,916.6 L121.8,918.0 L122.3,919.4 L122.7,920.9 L123.2,922.3 L123.7,923.7 L124.3,925.1 L124.8,926.5 L125.4,927.9 L125.9,929.3 L126.5,930.7 L127.1,932.0 L127.7,933.4 L128.4,934.8 L129.0,936.1 L129.7,937.4 L130.4,938.8 L131.1,940.1 L131.8,941.4 L132.5,942.7 L133.3,944.0 L134.0,945.3 L134.8,946.6 L135.6,947.9 L136.4,949.2 L137.2,950.4 L138.1,951.7 L138.9,952.9 L139.7,954.2 L140.6,955.4 L141.5,956.6 L142.4,957.8 L143.3,959.0 L144.2,960.2 L145.1,961.4 L146.1,962.6 L147.0,963.8 L148.0,965.0 L148.9,966.1 L149.9,967.3 L150.9,968.4 L151.9,969.6 L152.9,970.7 L153.9,971.8 L154.9,972.9 L156.0,974.0 L157.0,975.1 L158.0,976.2 L159.1,977.3 L160.2,978.4 L161.2,979.5 L162.3,980.5 L163.4,981.6 L164.5,982.6 L165.6,983.7 L166.7,984.7 L167.8,985.8 L168.9,986.8 L170.0,987.8 L171.1,988.8 L172.2,989.8 L173.4,990.8 L174.5,991.8 L175.6,992.8 L176.8,993.8 L177.9,994.8 L179.1,995.8 L180.2,996.8 L181.4,997.8 L182.5,998.8 L183.7,999.8 L184.9,1000.7 L186.0,1001.7 L187.2,1002.7 L188.4,1003.7 L189.5,1004.6 L190.7,1005.6 L191.9,1006.6 L193.0,1007.6 L194.2,1008.5 L195.3,1009.5 L196.5,1010.5 L197.7,1011.5 L198.8,1012.4 L200.0,1013.4 L201.1,1014.4 L202.3,1015.4 L203.4,1016.4 L204.6,1017.4 L205.7,1018.4 L206.9,1019.4 L208.0,1020.4 L209.1,1021.4 L210.3,1022.4 L211.4,1023.4 L212.5,1024.4 L213.6,1025.5 L214.7,1026.5 L215.8,1027.5 L216.9,1028.6 L217.9,1029.6 L219.0,1030.7 L220.1,1031.8 L221.1,1032.8 L222.2,1033.9 L223.2,1035.0 L224.2,1036.1 L225.3,1037.2 L226.3,1038.3 L227.3,1039.5 L228.2,1040.6 L229.2,1041.7 L230.2,1042.9 L231.1,1044.1 L232.1,1045.2 L233.0,1046.4 L233.9,1047.6 L234.8,1048.8 L235.7,1050.0 L236.6,1051.2 L237.5,1052.4 L238.3,1053.7 L239.2,1054.9 L240.0,1056.1 L240.8,1057.4 L241.6,1058.7 L242.4,1059.9 L243.2,1061.2 L244.0,1062.5 L244.7,1063.8 L245.5,1065.1 L246.2,1066.4 L246.9,1067.8 L247.6,1069.1 L248.2,1070.4 L248.9,1071.8 L249.5,1073.1 L250.2,1074.5 L250.8,1075.9 L251.4,1077.2 L252.0,1078.6 L252.6,1080.0 L253.1,1081.4 L253.7,1082.8 L254.2,1084.2 L254.7,1085.6 L255.2,1087.1 L255.7,1088.5 L256.2,1089.9 L256.7,1091.4 L257.1,1092.8 L257.6,1094.3 L258.0,1095.7 L258.5,1097.2 L258.9,1098.6 L259.3,1100.1 L259.7,1101.6 L260.1,1103.0 L260.5,1104.5 L260.9,1106.0 L261.2,1107.5 L261.6,1108.9 L261.9,1110.4 L262.3,1111.9 L262.6,1113.4 L263.0,1114.9 L263.3,1116.4 L263.6,1117.9 L263.9,1119.4 L264.2,1120.9 L264.5,1122.4 L264.8,1123.9 L265.1,1125.4 L265.4,1126.9 L265.6,1128.4 L265.9,1129.9 L266.2,1131.4 L266.5,1132.9 L266.7,1134.4 L267.0,1135.9 L267.2,1137.4 L267.5,1138.9 L267.7,1140.3 L268.0,1141.8 L268.2,1143.3 L268.5,1144.8 L268.7,1146.3 L269.0,1147.8 L269.2,1149.2 L269.4,1150.7 L269.7,1152.2 L269.9,1153.6 L270.2,1155.1 L270.4,1156.6 L270.7,1158.0 L270.9,1159.5 L271.1,1160.9" stroke="#1eaee6" stroke-width="2.9" fill="none" stroke-linejoin="round" stroke-linecap="round"/>
<path d="M692.8,989.0H758.8" stroke="#222222" stroke-width="2.8"/>
<path d="M692.8,1024.6H758.8" stroke="#e02a36" stroke-width="2.8"/>
<path d="M692.8,1059.8H758.8" stroke="#1c9a58" stroke-width="2.8"/>
<path d="M692.8,1095.3H758.8" stroke="#3c3c9c" stroke-width="2.8"/>
<path d="M692.8,1130.6H758.8" stroke="#1eaee6" stroke-width="2.8"/>
<g fill="#262626" font-family='"Liberation Sans", sans-serif' font-size="25">
<text transform="translate(765.0,998.6) scale(1.03,1)" font-size="25.5" text-anchor="start" >1st (C/20)</text>
<text transform="translate(765.0,1034.2) scale(1.03,1)" font-size="25.5" text-anchor="start" >10th (C/10)</text>
<text transform="translate(765.0,1069.4) scale(1.03,1)" font-size="25.5" text-anchor="start" >15th (C/5)</text>
<text transform="translate(765.0,1104.9) scale(1.03,1)" font-size="25.5" text-anchor="start" >20th (C/2)</text>
<text transform="translate(765.0,1140.2) scale(1.03,1)" font-size="25.5" text-anchor="start" >25th (1C)</text>
</g>
</svg>
</body></html>
